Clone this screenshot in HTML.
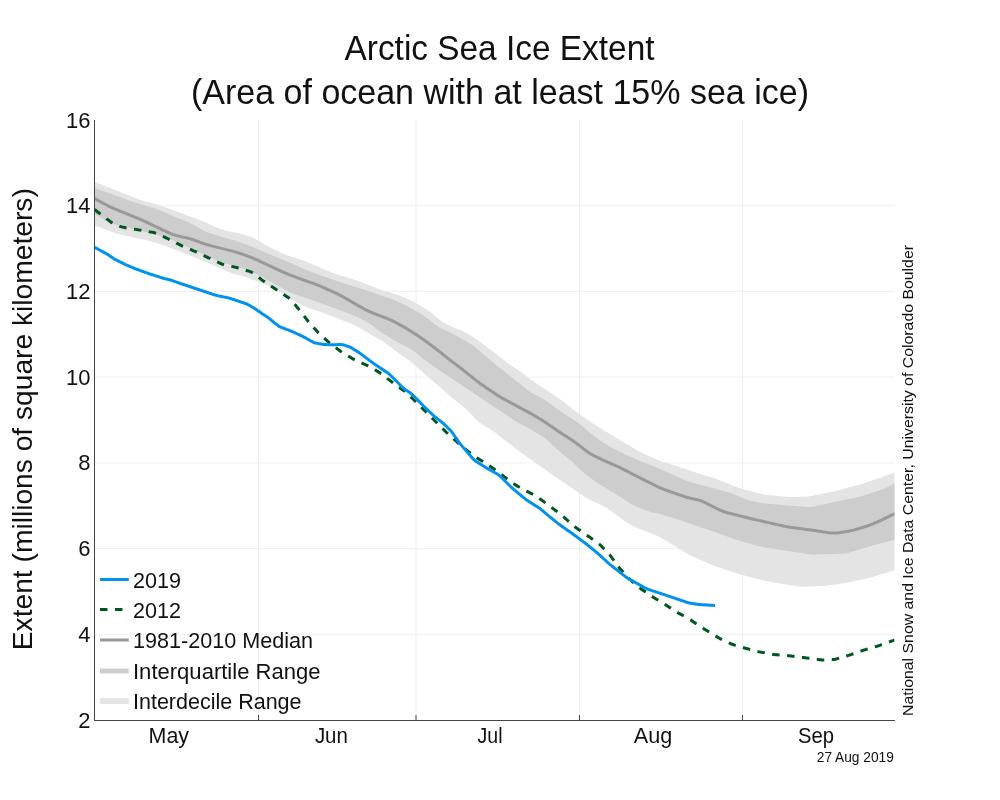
<!DOCTYPE html>
<html><head><meta charset="utf-8"><title>Arctic Sea Ice Extent</title>
<style>html,body{margin:0;padding:0;background:#fff;width:1000px;height:800px;overflow:hidden}svg{display:block;will-change:transform}</style>
</head><body>
<svg width="1000" height="800" viewBox="0 0 1000 800">
<rect width="1000" height="800" fill="#fff"/>
<line x1="95.0" y1="205.7" x2="894.5" y2="205.7" stroke="#f0f0f0" stroke-width="1"/>
<line x1="95.0" y1="291.4" x2="894.5" y2="291.4" stroke="#f0f0f0" stroke-width="1"/>
<line x1="95.0" y1="377.1" x2="894.5" y2="377.1" stroke="#f0f0f0" stroke-width="1"/>
<line x1="95.0" y1="462.9" x2="894.5" y2="462.9" stroke="#f0f0f0" stroke-width="1"/>
<line x1="95.0" y1="548.6" x2="894.5" y2="548.6" stroke="#f0f0f0" stroke-width="1"/>
<line x1="95.0" y1="634.3" x2="894.5" y2="634.3" stroke="#f0f0f0" stroke-width="1"/>
<line x1="258.5" y1="120.0" x2="258.5" y2="720.0" stroke="#f0f0f0" stroke-width="1"/>
<line x1="416.0" y1="120.0" x2="416.0" y2="720.0" stroke="#f0f0f0" stroke-width="1"/>
<line x1="579.5" y1="120.0" x2="579.5" y2="720.0" stroke="#f0f0f0" stroke-width="1"/>
<line x1="742.5" y1="120.0" x2="742.5" y2="720.0" stroke="#f0f0f0" stroke-width="1"/>
<clipPath id="c"><rect x="94.5" y="120.0" width="800.0" height="600.0"/></clipPath>
<g clip-path="url(#c)">
<path d="M94.5,182.0 L95.5,182.4 L96.5,182.7 L97.5,183.1 L98.5,183.5 L99.5,183.9 L100.5,184.2 L101.5,184.6 L102.5,185.0 L103.5,185.4 L104.5,185.7 L105.5,186.1 L106.5,186.5 L107.5,186.9 L108.5,187.2 L109.5,187.6 L110.5,188.0 L111.5,188.4 L112.5,188.8 L113.5,189.2 L114.5,189.6 L115.5,190.0 L116.5,190.4 L117.5,190.8 L118.5,191.2 L119.5,191.6 L120.5,192.0 L121.5,192.4 L122.5,192.8 L123.5,193.2 L124.5,193.6 L125.5,194.0 L126.5,194.4 L127.5,194.8 L128.5,195.2 L129.5,195.6 L130.5,196.0 L131.5,196.4 L132.5,196.8 L133.5,197.2 L134.5,197.6 L135.5,198.0 L136.5,198.4 L137.5,198.8 L138.5,199.2 L139.5,199.6 L140.5,199.9 L141.5,200.3 L142.5,200.6 L143.5,200.9 L144.5,201.2 L145.5,201.5 L146.5,201.7 L147.5,202.0 L148.5,202.2 L149.5,202.5 L150.5,202.7 L151.5,203.0 L152.5,203.2 L153.5,203.5 L154.5,203.7 L155.5,204.0 L156.5,204.3 L157.5,204.6 L158.5,204.9 L159.5,205.2 L160.5,205.5 L161.5,205.9 L162.5,206.3 L163.5,206.6 L164.5,207.0 L165.5,207.4 L166.5,207.7 L167.5,208.1 L168.5,208.5 L169.5,208.8 L170.5,209.2 L171.5,209.6 L172.5,209.9 L173.5,210.3 L174.5,210.7 L175.5,211.1 L176.5,211.4 L177.5,211.8 L178.5,212.2 L179.5,212.6 L180.5,212.9 L181.5,213.3 L182.5,213.7 L183.5,214.1 L184.5,214.4 L185.5,214.8 L186.5,215.2 L187.5,215.6 L188.5,215.9 L189.5,216.3 L190.5,216.7 L191.5,217.0 L192.5,217.4 L193.5,217.7 L194.5,218.1 L195.5,218.4 L196.5,218.8 L197.5,219.1 L198.5,219.5 L199.5,219.9 L200.5,220.3 L201.5,220.7 L202.5,221.1 L203.5,221.5 L204.5,221.9 L205.5,222.4 L206.5,222.8 L207.5,223.3 L208.5,223.7 L209.5,224.2 L210.5,224.7 L211.5,225.2 L212.5,225.7 L213.5,226.2 L214.5,226.7 L215.5,227.1 L216.5,227.6 L217.5,228.0 L218.5,228.4 L219.5,228.7 L220.5,229.0 L221.5,229.3 L222.5,229.6 L223.5,229.9 L224.5,230.1 L225.5,230.4 L226.5,230.7 L227.5,230.9 L228.5,231.2 L229.5,231.4 L230.5,231.6 L231.5,231.9 L232.5,232.1 L233.5,232.3 L234.5,232.5 L235.5,232.7 L236.5,232.9 L237.5,233.1 L238.5,233.3 L239.5,233.5 L240.5,233.8 L241.5,234.0 L242.5,234.3 L243.5,234.5 L244.5,234.8 L245.5,235.1 L246.5,235.5 L247.5,235.8 L248.5,236.1 L249.5,236.4 L250.5,236.8 L251.5,237.1 L252.5,237.5 L253.5,237.9 L254.5,238.4 L255.5,238.9 L256.5,239.5 L257.5,240.0 L258.5,240.6 L259.5,241.2 L260.5,241.8 L261.5,242.4 L262.5,243.0 L263.5,243.6 L264.5,244.2 L265.5,244.8 L266.5,245.4 L267.5,246.0 L268.5,246.5 L269.5,247.1 L270.5,247.6 L271.5,248.1 L272.5,248.6 L273.5,249.1 L274.5,249.6 L275.5,250.1 L276.5,250.5 L277.5,251.0 L278.5,251.5 L279.5,252.0 L280.5,252.4 L281.5,252.9 L282.5,253.3 L283.5,253.8 L284.5,254.2 L285.5,254.6 L286.5,255.0 L287.5,255.4 L288.5,255.7 L289.5,256.1 L290.5,256.4 L291.5,256.7 L292.5,257.0 L293.5,257.3 L294.5,257.7 L295.5,258.0 L296.5,258.3 L297.5,258.6 L298.5,258.9 L299.5,259.2 L300.5,259.6 L301.5,259.9 L302.5,260.3 L303.5,260.7 L304.5,261.1 L305.5,261.5 L306.5,261.9 L307.5,262.3 L308.5,262.7 L309.5,263.1 L310.5,263.5 L311.5,263.9 L312.5,264.3 L313.5,264.7 L314.5,265.2 L315.5,265.6 L316.5,266.0 L317.5,266.4 L318.5,266.8 L319.5,267.3 L320.5,267.7 L321.5,268.1 L322.5,268.5 L323.5,269.0 L324.5,269.4 L325.5,269.8 L326.5,270.3 L327.5,270.7 L328.5,271.1 L329.5,271.6 L330.5,272.0 L331.5,272.4 L332.5,272.8 L333.5,273.2 L334.5,273.5 L335.5,273.9 L336.5,274.2 L337.5,274.5 L338.5,274.8 L339.5,275.1 L340.5,275.4 L341.5,275.7 L342.5,276.0 L343.5,276.3 L344.5,276.6 L345.5,276.9 L346.5,277.2 L347.5,277.5 L348.5,277.8 L349.5,278.1 L350.5,278.4 L351.5,278.7 L352.5,279.1 L353.5,279.4 L354.5,279.8 L355.5,280.1 L356.5,280.5 L357.5,280.8 L358.5,281.2 L359.5,281.5 L360.5,281.9 L361.5,282.2 L362.5,282.6 L363.5,282.9 L364.5,283.3 L365.5,283.7 L366.5,284.0 L367.5,284.4 L368.5,284.8 L369.5,285.2 L370.5,285.6 L371.5,286.0 L372.5,286.4 L373.5,286.8 L374.5,287.2 L375.5,287.6 L376.5,288.0 L377.5,288.4 L378.5,288.8 L379.5,289.2 L380.5,289.6 L381.5,289.9 L382.5,290.3 L383.5,290.6 L384.5,290.9 L385.5,291.2 L386.5,291.5 L387.5,291.8 L388.5,292.1 L389.5,292.4 L390.5,292.8 L391.5,293.1 L392.5,293.4 L393.5,293.7 L394.5,294.0 L395.5,294.3 L396.5,294.6 L397.5,294.9 L398.5,295.3 L399.5,295.7 L400.5,296.1 L401.5,296.5 L402.5,296.9 L403.5,297.3 L404.5,297.7 L405.5,298.1 L406.5,298.6 L407.5,299.0 L408.5,299.4 L409.5,299.8 L410.5,300.3 L411.5,300.7 L412.5,301.2 L413.5,301.6 L414.5,302.2 L415.5,302.7 L416.5,303.3 L417.5,303.9 L418.5,304.5 L419.5,305.1 L420.5,305.7 L421.5,306.3 L422.5,307.0 L423.5,307.6 L424.5,308.2 L425.5,308.8 L426.5,309.5 L427.5,310.1 L428.5,310.8 L429.5,311.5 L430.5,312.2 L431.5,313.0 L432.5,313.8 L433.5,314.7 L434.5,315.5 L435.5,316.4 L436.5,317.2 L437.5,318.1 L438.5,318.9 L439.5,319.7 L440.5,320.5 L441.5,321.3 L442.5,321.9 L443.5,322.5 L444.5,323.1 L445.5,323.6 L446.5,324.1 L447.5,324.6 L448.5,325.0 L449.5,325.5 L450.5,326.0 L451.5,326.4 L452.5,326.9 L453.5,327.3 L454.5,327.7 L455.5,328.2 L456.5,328.6 L457.5,329.0 L458.5,329.4 L459.5,329.8 L460.5,330.2 L461.5,330.6 L462.5,331.0 L463.5,331.5 L464.5,331.9 L465.5,332.4 L466.5,332.9 L467.5,333.5 L468.5,334.1 L469.5,334.8 L470.5,335.4 L471.5,336.1 L472.5,336.7 L473.5,337.4 L474.5,338.1 L475.5,338.7 L476.5,339.4 L477.5,340.1 L478.5,340.8 L479.5,341.5 L480.5,342.3 L481.5,343.0 L482.5,343.7 L483.5,344.5 L484.5,345.2 L485.5,346.0 L486.5,346.7 L487.5,347.4 L488.5,348.2 L489.5,348.9 L490.5,349.7 L491.5,350.4 L492.5,351.2 L493.5,351.9 L494.5,352.7 L495.5,353.4 L496.5,354.2 L497.5,355.0 L498.5,355.8 L499.5,356.6 L500.5,357.4 L501.5,358.2 L502.5,359.0 L503.5,359.8 L504.5,360.6 L505.5,361.4 L506.5,362.2 L507.5,363.0 L508.5,363.7 L509.5,364.4 L510.5,365.1 L511.5,365.8 L512.5,366.5 L513.5,367.1 L514.5,367.7 L515.5,368.3 L516.5,368.9 L517.5,369.5 L518.5,370.2 L519.5,370.9 L520.5,371.6 L521.5,372.3 L522.5,373.1 L523.5,373.9 L524.5,374.7 L525.5,375.5 L526.5,376.3 L527.5,377.1 L528.5,377.9 L529.5,378.7 L530.5,379.5 L531.5,380.2 L532.5,380.9 L533.5,381.6 L534.5,382.2 L535.5,382.9 L536.5,383.5 L537.5,384.2 L538.5,384.8 L539.5,385.5 L540.5,386.1 L541.5,386.8 L542.5,387.4 L543.5,388.0 L544.5,388.7 L545.5,389.4 L546.5,390.0 L547.5,390.7 L548.5,391.3 L549.5,392.0 L550.5,392.7 L551.5,393.3 L552.5,394.0 L553.5,394.7 L554.5,395.3 L555.5,396.0 L556.5,396.7 L557.5,397.4 L558.5,398.1 L559.5,398.8 L560.5,399.5 L561.5,400.2 L562.5,401.0 L563.5,401.8 L564.5,402.6 L565.5,403.3 L566.5,404.1 L567.5,404.9 L568.5,405.7 L569.5,406.5 L570.5,407.3 L571.5,408.1 L572.5,408.9 L573.5,409.7 L574.5,410.4 L575.5,411.2 L576.5,412.0 L577.5,412.8 L578.5,413.5 L579.5,414.2 L580.5,414.9 L581.5,415.6 L582.5,416.3 L583.5,417.0 L584.5,417.7 L585.5,418.3 L586.5,419.0 L587.5,419.7 L588.5,420.3 L589.5,421.0 L590.5,421.7 L591.5,422.3 L592.5,423.0 L593.5,423.7 L594.5,424.3 L595.5,425.0 L596.5,425.7 L597.5,426.3 L598.5,427.0 L599.5,427.7 L600.5,428.3 L601.5,429.0 L602.5,429.6 L603.5,430.2 L604.5,430.8 L605.5,431.4 L606.5,432.0 L607.5,432.6 L608.5,433.2 L609.5,433.8 L610.5,434.4 L611.5,435.0 L612.5,435.5 L613.5,436.1 L614.5,436.7 L615.5,437.3 L616.5,437.9 L617.5,438.5 L618.5,439.1 L619.5,439.7 L620.5,440.3 L621.5,440.9 L622.5,441.5 L623.5,442.1 L624.5,442.7 L625.5,443.3 L626.5,443.9 L627.5,444.5 L628.5,445.1 L629.5,445.7 L630.5,446.3 L631.5,446.9 L632.5,447.5 L633.5,448.1 L634.5,448.7 L635.5,449.3 L636.5,449.9 L637.5,450.5 L638.5,451.0 L639.5,451.6 L640.5,452.1 L641.5,452.6 L642.5,453.1 L643.5,453.6 L644.5,454.0 L645.5,454.5 L646.5,454.9 L647.5,455.4 L648.5,455.8 L649.5,456.3 L650.5,456.7 L651.5,457.2 L652.5,457.6 L653.5,458.1 L654.5,458.5 L655.5,459.0 L656.5,459.4 L657.5,459.8 L658.5,460.3 L659.5,460.7 L660.5,461.0 L661.5,461.4 L662.5,461.7 L663.5,462.0 L664.5,462.3 L665.5,462.6 L666.5,462.9 L667.5,463.2 L668.5,463.5 L669.5,463.8 L670.5,464.1 L671.5,464.4 L672.5,464.8 L673.5,465.1 L674.5,465.4 L675.5,465.7 L676.5,466.0 L677.5,466.3 L678.5,466.6 L679.5,466.9 L680.5,467.2 L681.5,467.5 L682.5,467.9 L683.5,468.2 L684.5,468.6 L685.5,468.9 L686.5,469.3 L687.5,469.6 L688.5,470.0 L689.5,470.3 L690.5,470.7 L691.5,471.0 L692.5,471.4 L693.5,471.7 L694.5,472.1 L695.5,472.4 L696.5,472.8 L697.5,473.1 L698.5,473.4 L699.5,473.8 L700.5,474.1 L701.5,474.4 L702.5,474.7 L703.5,475.0 L704.5,475.3 L705.5,475.6 L706.5,475.9 L707.5,476.1 L708.5,476.4 L709.5,476.7 L710.5,477.0 L711.5,477.3 L712.5,477.6 L713.5,477.9 L714.5,478.3 L715.5,478.6 L716.5,479.0 L717.5,479.4 L718.5,479.8 L719.5,480.2 L720.5,480.6 L721.5,481.0 L722.5,481.4 L723.5,481.8 L724.5,482.2 L725.5,482.6 L726.5,483.0 L727.5,483.4 L728.5,483.8 L729.5,484.2 L730.5,484.6 L731.5,485.0 L732.5,485.4 L733.5,485.8 L734.5,486.2 L735.5,486.6 L736.5,487.0 L737.5,487.3 L738.5,487.7 L739.5,488.0 L740.5,488.3 L741.5,488.6 L742.5,488.9 L743.5,489.2 L744.5,489.5 L745.5,489.7 L746.5,490.0 L747.5,490.3 L748.5,490.5 L749.5,490.8 L750.5,491.1 L751.5,491.3 L752.5,491.6 L753.5,491.9 L754.5,492.1 L755.5,492.4 L756.5,492.7 L757.5,492.9 L758.5,493.2 L759.5,493.5 L760.5,493.7 L761.5,493.9 L762.5,494.1 L763.5,494.3 L764.5,494.5 L765.5,494.6 L766.5,494.7 L767.5,494.9 L768.5,495.0 L769.5,495.1 L770.5,495.2 L771.5,495.3 L772.5,495.4 L773.5,495.5 L774.5,495.6 L775.5,495.7 L776.5,495.8 L777.5,495.9 L778.5,496.0 L779.5,496.1 L780.5,496.2 L781.5,496.3 L782.5,496.4 L783.5,496.5 L784.5,496.6 L785.5,496.7 L786.5,496.8 L787.5,496.9 L788.5,496.9 L789.5,496.9 L790.5,496.9 L791.5,496.9 L792.5,496.9 L793.5,496.9 L794.5,496.9 L795.5,496.9 L796.5,496.9 L797.5,496.9 L798.5,496.9 L799.5,496.9 L800.5,496.8 L801.5,496.8 L802.5,496.8 L803.5,496.8 L804.5,496.8 L805.5,496.7 L806.5,496.7 L807.5,496.6 L808.5,496.4 L809.5,496.3 L810.5,496.1 L811.5,495.9 L812.5,495.7 L813.5,495.5 L814.5,495.3 L815.5,495.1 L816.5,495.0 L817.5,494.7 L818.5,494.5 L819.5,494.3 L820.5,494.1 L821.5,494.0 L822.5,493.8 L823.5,493.6 L824.5,493.3 L825.5,493.1 L826.5,492.9 L827.5,492.7 L828.5,492.5 L829.5,492.3 L830.5,492.1 L831.5,491.9 L832.5,491.7 L833.5,491.5 L834.5,491.3 L835.5,491.0 L836.5,490.8 L837.5,490.5 L838.5,490.2 L839.5,490.0 L840.5,489.7 L841.5,489.4 L842.5,489.2 L843.5,488.9 L844.5,488.6 L845.5,488.4 L846.5,488.1 L847.5,487.8 L848.5,487.6 L849.5,487.3 L850.5,487.0 L851.5,486.8 L852.5,486.5 L853.5,486.2 L854.5,486.0 L855.5,485.7 L856.5,485.4 L857.5,485.2 L858.5,484.9 L859.5,484.6 L860.5,484.3 L861.5,484.0 L862.5,483.7 L863.5,483.3 L864.5,483.0 L865.5,482.7 L866.5,482.3 L867.5,482.0 L868.5,481.7 L869.5,481.3 L870.5,481.0 L871.5,480.7 L872.5,480.3 L873.5,480.0 L874.5,479.7 L875.5,479.3 L876.5,479.0 L877.5,478.7 L878.5,478.3 L879.5,478.0 L880.5,477.6 L881.5,477.3 L882.5,476.9 L883.5,476.6 L884.5,476.2 L885.5,475.8 L886.5,475.4 L887.5,475.1 L888.5,474.7 L889.5,474.3 L890.5,473.9 L891.5,473.6 L892.5,473.2 L893.5,472.9 L894.5,472.6 L895.0,472.2 L895.0,570.2 L894.5,570.5 L893.5,570.8 L892.5,571.0 L891.5,571.3 L890.5,571.6 L889.5,571.9 L888.5,572.2 L887.5,572.5 L886.5,572.8 L885.5,573.1 L884.5,573.4 L883.5,573.7 L882.5,574.0 L881.5,574.3 L880.5,574.6 L879.5,574.9 L878.5,575.2 L877.5,575.5 L876.5,575.8 L875.5,576.1 L874.5,576.4 L873.5,576.7 L872.5,577.0 L871.5,577.3 L870.5,577.5 L869.5,577.8 L868.5,578.1 L867.5,578.3 L866.5,578.5 L865.5,578.8 L864.5,579.0 L863.5,579.2 L862.5,579.4 L861.5,579.6 L860.5,579.8 L859.5,580.0 L858.5,580.2 L857.5,580.5 L856.5,580.7 L855.5,580.9 L854.5,581.1 L853.5,581.3 L852.5,581.5 L851.5,581.7 L850.5,581.9 L849.5,582.1 L848.5,582.3 L847.5,582.5 L846.5,582.7 L845.5,582.8 L844.5,583.0 L843.5,583.2 L842.5,583.3 L841.5,583.5 L840.5,583.6 L839.5,583.8 L838.5,583.9 L837.5,584.1 L836.5,584.2 L835.5,584.4 L834.5,584.5 L833.5,584.7 L832.5,584.8 L831.5,585.0 L830.5,585.2 L829.5,585.3 L828.5,585.5 L827.5,585.6 L826.5,585.7 L825.5,585.8 L824.5,585.9 L823.5,586.0 L822.5,586.1 L821.5,586.1 L820.5,586.2 L819.5,586.2 L818.5,586.2 L817.5,586.3 L816.5,586.3 L815.5,586.3 L814.5,586.4 L813.5,586.4 L812.5,586.5 L811.5,586.5 L810.5,586.5 L809.5,586.6 L808.5,586.6 L807.5,586.6 L806.5,586.7 L805.5,586.7 L804.5,586.7 L803.5,586.8 L802.5,586.8 L801.5,586.7 L800.5,586.7 L799.5,586.6 L798.5,586.5 L797.5,586.4 L796.5,586.2 L795.5,586.0 L794.5,585.9 L793.5,585.7 L792.5,585.5 L791.5,585.4 L790.5,585.2 L789.5,585.0 L788.5,584.9 L787.5,584.7 L786.5,584.5 L785.5,584.4 L784.5,584.2 L783.5,584.0 L782.5,583.9 L781.5,583.7 L780.5,583.5 L779.5,583.3 L778.5,583.2 L777.5,583.0 L776.5,582.9 L775.5,582.7 L774.5,582.5 L773.5,582.4 L772.5,582.2 L771.5,582.0 L770.5,581.8 L769.5,581.7 L768.5,581.5 L767.5,581.3 L766.5,581.2 L765.5,581.0 L764.5,580.8 L763.5,580.6 L762.5,580.4 L761.5,580.1 L760.5,579.9 L759.5,579.6 L758.5,579.4 L757.5,579.1 L756.5,578.8 L755.5,578.6 L754.5,578.3 L753.5,578.0 L752.5,577.7 L751.5,577.5 L750.5,577.2 L749.5,576.9 L748.5,576.6 L747.5,576.4 L746.5,576.1 L745.5,575.8 L744.5,575.6 L743.5,575.3 L742.5,575.0 L741.5,574.7 L740.5,574.4 L739.5,574.2 L738.5,573.9 L737.5,573.5 L736.5,573.2 L735.5,572.9 L734.5,572.6 L733.5,572.3 L732.5,571.9 L731.5,571.6 L730.5,571.3 L729.5,571.0 L728.5,570.6 L727.5,570.3 L726.5,570.0 L725.5,569.6 L724.5,569.3 L723.5,569.0 L722.5,568.7 L721.5,568.3 L720.5,568.0 L719.5,567.7 L718.5,567.3 L717.5,567.0 L716.5,566.7 L715.5,566.3 L714.5,565.9 L713.5,565.5 L712.5,565.1 L711.5,564.7 L710.5,564.3 L709.5,563.9 L708.5,563.4 L707.5,563.0 L706.5,562.6 L705.5,562.1 L704.5,561.7 L703.5,561.3 L702.5,560.8 L701.5,560.4 L700.5,560.0 L699.5,559.5 L698.5,559.1 L697.5,558.7 L696.5,558.2 L695.5,557.8 L694.5,557.3 L693.5,556.9 L692.5,556.4 L691.5,556.0 L690.5,555.5 L689.5,555.0 L688.5,554.4 L687.5,553.8 L686.5,553.2 L685.5,552.6 L684.5,552.0 L683.5,551.4 L682.5,550.8 L681.5,550.2 L680.5,549.6 L679.5,549.0 L678.5,548.3 L677.5,547.7 L676.5,547.1 L675.5,546.5 L674.5,545.9 L673.5,545.3 L672.5,544.7 L671.5,544.1 L670.5,543.4 L669.5,542.8 L668.5,542.2 L667.5,541.6 L666.5,541.0 L665.5,540.4 L664.5,539.8 L663.5,539.2 L662.5,538.6 L661.5,538.0 L660.5,537.5 L659.5,537.0 L658.5,536.5 L657.5,536.0 L656.5,535.6 L655.5,535.2 L654.5,534.8 L653.5,534.4 L652.5,534.0 L651.5,533.6 L650.5,533.2 L649.5,532.8 L648.5,532.4 L647.5,532.0 L646.5,531.6 L645.5,531.2 L644.5,530.8 L643.5,530.4 L642.5,530.0 L641.5,529.6 L640.5,529.2 L639.5,528.8 L638.5,528.4 L637.5,528.0 L636.5,527.6 L635.5,527.2 L634.5,526.7 L633.5,526.3 L632.5,525.8 L631.5,525.3 L630.5,524.7 L629.5,524.2 L628.5,523.6 L627.5,523.0 L626.5,522.3 L625.5,521.7 L624.5,521.0 L623.5,520.3 L622.5,519.6 L621.5,518.9 L620.5,518.1 L619.5,517.3 L618.5,516.5 L617.5,515.7 L616.5,514.9 L615.5,514.2 L614.5,513.4 L613.5,512.7 L612.5,512.0 L611.5,511.3 L610.5,510.6 L609.5,509.9 L608.5,509.2 L607.5,508.6 L606.5,507.9 L605.5,507.4 L604.5,506.8 L603.5,506.3 L602.5,505.7 L601.5,505.2 L600.5,504.7 L599.5,504.2 L598.5,503.8 L597.5,503.3 L596.5,502.9 L595.5,502.4 L594.5,502.0 L593.5,501.6 L592.5,501.2 L591.5,500.7 L590.5,500.3 L589.5,499.8 L588.5,499.3 L587.5,498.7 L586.5,498.1 L585.5,497.4 L584.5,496.7 L583.5,496.0 L582.5,495.3 L581.5,494.7 L580.5,494.0 L579.5,493.3 L578.5,492.6 L577.5,492.0 L576.5,491.3 L575.5,490.6 L574.5,490.0 L573.5,489.3 L572.5,488.6 L571.5,488.0 L570.5,487.3 L569.5,486.6 L568.5,485.9 L567.5,485.2 L566.5,484.5 L565.5,483.8 L564.5,483.1 L563.5,482.4 L562.5,481.7 L561.5,481.1 L560.5,480.3 L559.5,479.7 L558.5,479.0 L557.5,478.2 L556.5,477.6 L555.5,476.9 L554.5,476.2 L553.5,475.4 L552.5,474.8 L551.5,474.0 L550.5,473.4 L549.5,472.7 L548.5,471.9 L547.5,471.2 L546.5,470.5 L545.5,469.8 L544.5,469.1 L543.5,468.4 L542.5,467.7 L541.5,467.0 L540.5,466.3 L539.5,465.6 L538.5,464.9 L537.5,464.2 L536.5,463.5 L535.5,462.8 L534.5,462.1 L533.5,461.4 L532.5,460.7 L531.5,460.0 L530.5,459.3 L529.5,458.6 L528.5,457.9 L527.5,457.2 L526.5,456.5 L525.5,455.8 L524.5,455.1 L523.5,454.4 L522.5,453.7 L521.5,453.0 L520.5,452.3 L519.5,451.5 L518.5,450.8 L517.5,450.0 L516.5,449.2 L515.5,448.4 L514.5,447.6 L513.5,446.8 L512.5,446.0 L511.5,445.2 L510.5,444.4 L509.5,443.7 L508.5,442.9 L507.5,442.1 L506.5,441.4 L505.5,440.6 L504.5,439.9 L503.5,439.1 L502.5,438.4 L501.5,437.6 L500.5,436.8 L499.5,436.0 L498.5,435.2 L497.5,434.4 L496.5,433.6 L495.5,432.8 L494.5,432.1 L493.5,431.4 L492.5,430.7 L491.5,430.0 L490.5,429.4 L489.5,428.7 L488.5,428.1 L487.5,427.5 L486.5,426.9 L485.5,426.3 L484.5,425.6 L483.5,425.0 L482.5,424.4 L481.5,423.8 L480.5,423.1 L479.5,422.4 L478.5,421.7 L477.5,420.8 L476.5,419.9 L475.5,418.9 L474.5,417.9 L473.5,416.7 L472.5,415.6 L471.5,414.5 L470.5,413.4 L469.5,412.4 L468.5,411.4 L467.5,410.5 L466.5,409.6 L465.5,408.7 L464.5,407.8 L463.5,407.0 L462.5,406.2 L461.5,405.3 L460.5,404.5 L459.5,403.7 L458.5,403.0 L457.5,402.2 L456.5,401.4 L455.5,400.6 L454.5,399.8 L453.5,399.0 L452.5,398.2 L451.5,397.3 L450.5,396.4 L449.5,395.6 L448.5,394.7 L447.5,393.8 L446.5,392.9 L445.5,392.0 L444.5,391.1 L443.5,390.2 L442.5,389.4 L441.5,388.5 L440.5,387.6 L439.5,386.7 L438.5,385.9 L437.5,385.0 L436.5,384.2 L435.5,383.3 L434.5,382.5 L433.5,381.6 L432.5,380.8 L431.5,380.0 L430.5,379.1 L429.5,378.3 L428.5,377.4 L427.5,376.5 L426.5,375.7 L425.5,374.8 L424.5,373.9 L423.5,373.0 L422.5,372.1 L421.5,371.2 L420.5,370.3 L419.5,369.4 L418.5,368.6 L417.5,367.7 L416.5,366.8 L415.5,365.9 L414.5,365.0 L413.5,364.1 L412.5,363.2 L411.5,362.4 L410.5,361.6 L409.5,360.8 L408.5,360.1 L407.5,359.4 L406.5,358.7 L405.5,358.0 L404.5,357.3 L403.5,356.6 L402.5,355.8 L401.5,355.1 L400.5,354.4 L399.5,353.7 L398.5,353.0 L397.5,352.3 L396.5,351.6 L395.5,350.9 L394.5,350.1 L393.5,349.3 L392.5,348.6 L391.5,347.8 L390.5,347.0 L389.5,346.3 L388.5,345.5 L387.5,344.7 L386.5,344.0 L385.5,343.2 L384.5,342.5 L383.5,341.9 L382.5,341.2 L381.5,340.6 L380.5,340.0 L379.5,339.4 L378.5,338.9 L377.5,338.3 L376.5,337.7 L375.5,337.1 L374.5,336.6 L373.5,336.0 L372.5,335.4 L371.5,334.9 L370.5,334.3 L369.5,333.7 L368.5,333.1 L367.5,332.6 L366.5,332.0 L365.5,331.4 L364.5,330.8 L363.5,330.3 L362.5,329.7 L361.5,329.1 L360.5,328.5 L359.5,328.0 L358.5,327.4 L357.5,326.8 L356.5,326.3 L355.5,325.7 L354.5,325.2 L353.5,324.7 L352.5,324.3 L351.5,323.9 L350.5,323.4 L349.5,323.0 L348.5,322.6 L347.5,322.2 L346.5,321.8 L345.5,321.5 L344.5,321.1 L343.5,320.7 L342.5,320.3 L341.5,319.9 L340.5,319.5 L339.5,319.1 L338.5,318.7 L337.5,318.3 L336.5,317.9 L335.5,317.6 L334.5,317.2 L333.5,316.8 L332.5,316.4 L331.5,316.1 L330.5,315.7 L329.5,315.3 L328.5,314.9 L327.5,314.6 L326.5,314.2 L325.5,313.8 L324.5,313.4 L323.5,313.1 L322.5,312.7 L321.5,312.4 L320.5,312.0 L319.5,311.6 L318.5,311.3 L317.5,311.0 L316.5,310.6 L315.5,310.3 L314.5,309.9 L313.5,309.6 L312.5,309.2 L311.5,308.9 L310.5,308.5 L309.5,308.2 L308.5,307.8 L307.5,307.4 L306.5,307.1 L305.5,306.6 L304.5,306.2 L303.5,305.7 L302.5,305.2 L301.5,304.7 L300.5,304.2 L299.5,303.7 L298.5,303.2 L297.5,302.7 L296.5,302.2 L295.5,301.7 L294.5,301.2 L293.5,300.6 L292.5,300.1 L291.5,299.4 L290.5,298.8 L289.5,298.1 L288.5,297.4 L287.5,296.6 L286.5,295.9 L285.5,295.2 L284.5,294.5 L283.5,293.9 L282.5,293.3 L281.5,292.7 L280.5,292.1 L279.5,291.5 L278.5,291.0 L277.5,290.4 L276.5,289.9 L275.5,289.4 L274.5,288.9 L273.5,288.4 L272.5,287.9 L271.5,287.4 L270.5,286.9 L269.5,286.5 L268.5,286.0 L267.5,285.6 L266.5,285.1 L265.5,284.7 L264.5,284.3 L263.5,283.8 L262.5,283.4 L261.5,283.0 L260.5,282.6 L259.5,282.2 L258.5,281.8 L257.5,281.4 L256.5,281.0 L255.5,280.6 L254.5,280.3 L253.5,279.9 L252.5,279.5 L251.5,279.2 L250.5,278.8 L249.5,278.5 L248.5,278.2 L247.5,277.8 L246.5,277.5 L245.5,277.2 L244.5,276.8 L243.5,276.5 L242.5,276.2 L241.5,275.9 L240.5,275.6 L239.5,275.3 L238.5,275.1 L237.5,274.8 L236.5,274.5 L235.5,274.3 L234.5,274.0 L233.5,273.7 L232.5,273.4 L231.5,273.1 L230.5,272.8 L229.5,272.4 L228.5,272.0 L227.5,271.6 L226.5,271.1 L225.5,270.7 L224.5,270.2 L223.5,269.8 L222.5,269.3 L221.5,268.8 L220.5,268.4 L219.5,267.9 L218.5,267.5 L217.5,267.0 L216.5,266.6 L215.5,266.1 L214.5,265.7 L213.5,265.3 L212.5,264.8 L211.5,264.4 L210.5,264.0 L209.5,263.5 L208.5,263.1 L207.5,262.7 L206.5,262.2 L205.5,261.8 L204.5,261.4 L203.5,261.0 L202.5,260.6 L201.5,260.1 L200.5,259.7 L199.5,259.3 L198.5,258.9 L197.5,258.5 L196.5,258.1 L195.5,257.7 L194.5,257.3 L193.5,256.8 L192.5,256.4 L191.5,256.0 L190.5,255.6 L189.5,255.2 L188.5,254.8 L187.5,254.4 L186.5,254.0 L185.5,253.7 L184.5,253.3 L183.5,252.9 L182.5,252.5 L181.5,252.1 L180.5,251.7 L179.5,251.3 L178.5,250.9 L177.5,250.6 L176.5,250.2 L175.5,249.8 L174.5,249.4 L173.5,249.0 L172.5,248.6 L171.5,248.2 L170.5,247.9 L169.5,247.5 L168.5,247.1 L167.5,246.7 L166.5,246.3 L165.5,245.9 L164.5,245.6 L163.5,245.2 L162.5,244.9 L161.5,244.5 L160.5,244.2 L159.5,243.9 L158.5,243.6 L157.5,243.3 L156.5,243.0 L155.5,242.7 L154.5,242.4 L153.5,242.1 L152.5,241.8 L151.5,241.5 L150.5,241.2 L149.5,241.0 L148.5,240.7 L147.5,240.5 L146.5,240.2 L145.5,240.0 L144.5,239.8 L143.5,239.6 L142.5,239.4 L141.5,239.1 L140.5,238.9 L139.5,238.7 L138.5,238.5 L137.5,238.3 L136.5,238.0 L135.5,237.8 L134.5,237.6 L133.5,237.4 L132.5,237.2 L131.5,236.9 L130.5,236.7 L129.5,236.5 L128.5,236.3 L127.5,236.1 L126.5,235.8 L125.5,235.6 L124.5,235.4 L123.5,235.2 L122.5,235.0 L121.5,234.7 L120.5,234.5 L119.5,234.3 L118.5,234.0 L117.5,233.8 L116.5,233.5 L115.5,233.2 L114.5,232.8 L113.5,232.5 L112.5,232.1 L111.5,231.7 L110.5,231.3 L109.5,230.9 L108.5,230.6 L107.5,230.2 L106.5,229.8 L105.5,229.4 L104.5,229.1 L103.5,228.7 L102.5,228.4 L101.5,228.0 L100.5,227.6 L99.5,227.3 L98.5,226.9 L97.5,226.6 L96.5,226.2 L95.5,225.9 L94.5,225.5 Z" fill="#e4e4e4"/>
<path d="M94.5,188.0 L95.5,188.3 L96.5,188.7 L97.5,189.0 L98.5,189.4 L99.5,189.7 L100.5,190.1 L101.5,190.4 L102.5,190.8 L103.5,191.1 L104.5,191.5 L105.5,191.8 L106.5,192.2 L107.5,192.5 L108.5,192.9 L109.5,193.2 L110.5,193.6 L111.5,194.0 L112.5,194.3 L113.5,194.7 L114.5,195.1 L115.5,195.5 L116.5,195.8 L117.5,196.2 L118.5,196.6 L119.5,197.0 L120.5,197.3 L121.5,197.7 L122.5,198.1 L123.5,198.5 L124.5,198.8 L125.5,199.2 L126.5,199.5 L127.5,199.9 L128.5,200.2 L129.5,200.5 L130.5,200.9 L131.5,201.2 L132.5,201.5 L133.5,201.8 L134.5,202.2 L135.5,202.5 L136.5,202.8 L137.5,203.1 L138.5,203.5 L139.5,203.8 L140.5,204.1 L141.5,204.4 L142.5,204.7 L143.5,205.0 L144.5,205.3 L145.5,205.6 L146.5,205.9 L147.5,206.2 L148.5,206.5 L149.5,206.8 L150.5,207.2 L151.5,207.5 L152.5,207.8 L153.5,208.1 L154.5,208.4 L155.5,208.7 L156.5,209.0 L157.5,209.4 L158.5,209.7 L159.5,210.1 L160.5,210.5 L161.5,211.0 L162.5,211.4 L163.5,211.8 L164.5,212.3 L165.5,212.7 L166.5,213.2 L167.5,213.6 L168.5,214.1 L169.5,214.5 L170.5,214.9 L171.5,215.4 L172.5,215.8 L173.5,216.2 L174.5,216.7 L175.5,217.1 L176.5,217.5 L177.5,217.9 L178.5,218.3 L179.5,218.7 L180.5,219.1 L181.5,219.5 L182.5,219.8 L183.5,220.2 L184.5,220.6 L185.5,221.0 L186.5,221.4 L187.5,221.9 L188.5,222.3 L189.5,222.7 L190.5,223.2 L191.5,223.7 L192.5,224.3 L193.5,224.8 L194.5,225.4 L195.5,226.0 L196.5,226.5 L197.5,227.1 L198.5,227.7 L199.5,228.3 L200.5,228.8 L201.5,229.4 L202.5,230.0 L203.5,230.5 L204.5,231.0 L205.5,231.5 L206.5,232.0 L207.5,232.4 L208.5,232.7 L209.5,233.1 L210.5,233.4 L211.5,233.7 L212.5,234.0 L213.5,234.3 L214.5,234.7 L215.5,235.0 L216.5,235.3 L217.5,235.6 L218.5,235.9 L219.5,236.2 L220.5,236.5 L221.5,236.8 L222.5,237.1 L223.5,237.4 L224.5,237.7 L225.5,238.0 L226.5,238.3 L227.5,238.5 L228.5,238.8 L229.5,239.1 L230.5,239.4 L231.5,239.7 L232.5,240.0 L233.5,240.2 L234.5,240.5 L235.5,240.8 L236.5,241.1 L237.5,241.4 L238.5,241.8 L239.5,242.1 L240.5,242.5 L241.5,242.8 L242.5,243.2 L243.5,243.6 L244.5,243.9 L245.5,244.3 L246.5,244.7 L247.5,245.1 L248.5,245.4 L249.5,245.8 L250.5,246.2 L251.5,246.6 L252.5,247.0 L253.5,247.4 L254.5,247.8 L255.5,248.2 L256.5,248.6 L257.5,249.0 L258.5,249.5 L259.5,249.9 L260.5,250.3 L261.5,250.8 L262.5,251.2 L263.5,251.7 L264.5,252.1 L265.5,252.5 L266.5,253.0 L267.5,253.4 L268.5,253.8 L269.5,254.3 L270.5,254.7 L271.5,255.1 L272.5,255.5 L273.5,255.9 L274.5,256.3 L275.5,256.7 L276.5,257.1 L277.5,257.5 L278.5,258.0 L279.5,258.4 L280.5,258.8 L281.5,259.2 L282.5,259.6 L283.5,260.0 L284.5,260.4 L285.5,260.8 L286.5,261.2 L287.5,261.7 L288.5,262.1 L289.5,262.5 L290.5,263.0 L291.5,263.4 L292.5,263.8 L293.5,264.3 L294.5,264.7 L295.5,265.2 L296.5,265.6 L297.5,266.0 L298.5,266.5 L299.5,266.9 L300.5,267.3 L301.5,267.8 L302.5,268.2 L303.5,268.6 L304.5,269.0 L305.5,269.4 L306.5,269.9 L307.5,270.3 L308.5,270.7 L309.5,271.1 L310.5,271.5 L311.5,271.9 L312.5,272.3 L313.5,272.7 L314.5,273.1 L315.5,273.6 L316.5,273.9 L317.5,274.3 L318.5,274.7 L319.5,275.1 L320.5,275.4 L321.5,275.8 L322.5,276.1 L323.5,276.5 L324.5,276.8 L325.5,277.1 L326.5,277.5 L327.5,277.8 L328.5,278.1 L329.5,278.5 L330.5,278.8 L331.5,279.2 L332.5,279.5 L333.5,279.8 L334.5,280.2 L335.5,280.5 L336.5,280.8 L337.5,281.2 L338.5,281.5 L339.5,281.9 L340.5,282.2 L341.5,282.5 L342.5,282.9 L343.5,283.2 L344.5,283.5 L345.5,283.9 L346.5,284.2 L347.5,284.5 L348.5,284.9 L349.5,285.2 L350.5,285.5 L351.5,285.8 L352.5,286.1 L353.5,286.4 L354.5,286.7 L355.5,287.0 L356.5,287.3 L357.5,287.6 L358.5,288.0 L359.5,288.3 L360.5,288.6 L361.5,288.9 L362.5,289.2 L363.5,289.5 L364.5,289.8 L365.5,290.1 L366.5,290.4 L367.5,290.7 L368.5,291.1 L369.5,291.4 L370.5,291.8 L371.5,292.1 L372.5,292.5 L373.5,292.8 L374.5,293.2 L375.5,293.5 L376.5,293.9 L377.5,294.2 L378.5,294.6 L379.5,294.9 L380.5,295.3 L381.5,295.6 L382.5,296.0 L383.5,296.3 L384.5,296.7 L385.5,297.0 L386.5,297.4 L387.5,297.7 L388.5,298.1 L389.5,298.4 L390.5,298.8 L391.5,299.1 L392.5,299.5 L393.5,299.8 L394.5,300.2 L395.5,300.6 L396.5,300.9 L397.5,301.4 L398.5,301.8 L399.5,302.2 L400.5,302.7 L401.5,303.2 L402.5,303.7 L403.5,304.3 L404.5,304.8 L405.5,305.3 L406.5,305.8 L407.5,306.3 L408.5,306.8 L409.5,307.4 L410.5,307.9 L411.5,308.4 L412.5,309.0 L413.5,309.5 L414.5,310.1 L415.5,310.7 L416.5,311.3 L417.5,311.9 L418.5,312.5 L419.5,313.1 L420.5,313.8 L421.5,314.4 L422.5,315.0 L423.5,315.7 L424.5,316.3 L425.5,317.0 L426.5,317.7 L427.5,318.5 L428.5,319.2 L429.5,320.0 L430.5,320.8 L431.5,321.6 L432.5,322.4 L433.5,323.2 L434.5,324.0 L435.5,324.7 L436.5,325.5 L437.5,326.1 L438.5,326.8 L439.5,327.4 L440.5,327.9 L441.5,328.4 L442.5,328.9 L443.5,329.4 L444.5,329.8 L445.5,330.3 L446.5,330.8 L447.5,331.2 L448.5,331.7 L449.5,332.2 L450.5,332.7 L451.5,333.2 L452.5,333.7 L453.5,334.3 L454.5,334.8 L455.5,335.3 L456.5,335.9 L457.5,336.4 L458.5,336.9 L459.5,337.5 L460.5,338.0 L461.5,338.6 L462.5,339.2 L463.5,339.7 L464.5,340.3 L465.5,340.9 L466.5,341.5 L467.5,342.1 L468.5,342.7 L469.5,343.3 L470.5,343.9 L471.5,344.6 L472.5,345.2 L473.5,345.9 L474.5,346.6 L475.5,347.4 L476.5,348.2 L477.5,349.1 L478.5,349.9 L479.5,350.8 L480.5,351.7 L481.5,352.6 L482.5,353.4 L483.5,354.3 L484.5,355.2 L485.5,356.1 L486.5,356.9 L487.5,357.8 L488.5,358.7 L489.5,359.5 L490.5,360.3 L491.5,361.2 L492.5,362.0 L493.5,362.8 L494.5,363.6 L495.5,364.4 L496.5,365.2 L497.5,366.0 L498.5,366.8 L499.5,367.6 L500.5,368.4 L501.5,369.2 L502.5,370.0 L503.5,370.8 L504.5,371.6 L505.5,372.4 L506.5,373.2 L507.5,374.0 L508.5,374.8 L509.5,375.6 L510.5,376.4 L511.5,377.2 L512.5,378.0 L513.5,378.8 L514.5,379.6 L515.5,380.4 L516.5,381.2 L517.5,382.0 L518.5,382.8 L519.5,383.6 L520.5,384.4 L521.5,385.2 L522.5,386.0 L523.5,386.8 L524.5,387.6 L525.5,388.4 L526.5,389.2 L527.5,389.9 L528.5,390.7 L529.5,391.4 L530.5,392.1 L531.5,392.7 L532.5,393.3 L533.5,393.8 L534.5,394.4 L535.5,394.9 L536.5,395.5 L537.5,396.0 L538.5,396.5 L539.5,397.1 L540.5,397.6 L541.5,398.2 L542.5,398.7 L543.5,399.3 L544.5,399.9 L545.5,400.5 L546.5,401.2 L547.5,401.9 L548.5,402.6 L549.5,403.3 L550.5,404.0 L551.5,404.8 L552.5,405.5 L553.5,406.2 L554.5,407.0 L555.5,407.7 L556.5,408.4 L557.5,409.1 L558.5,409.9 L559.5,410.6 L560.5,411.3 L561.5,411.9 L562.5,412.6 L563.5,413.3 L564.5,413.9 L565.5,414.6 L566.5,415.2 L567.5,415.9 L568.5,416.5 L569.5,417.2 L570.5,417.8 L571.5,418.5 L572.5,419.1 L573.5,419.8 L574.5,420.4 L575.5,421.1 L576.5,421.7 L577.5,422.4 L578.5,423.1 L579.5,423.9 L580.5,424.6 L581.5,425.5 L582.5,426.3 L583.5,427.2 L584.5,428.1 L585.5,428.9 L586.5,429.8 L587.5,430.7 L588.5,431.6 L589.5,432.4 L590.5,433.2 L591.5,434.0 L592.5,434.8 L593.5,435.6 L594.5,436.3 L595.5,437.0 L596.5,437.8 L597.5,438.5 L598.5,439.2 L599.5,440.0 L600.5,440.7 L601.5,441.4 L602.5,442.1 L603.5,442.8 L604.5,443.5 L605.5,444.1 L606.5,444.7 L607.5,445.3 L608.5,445.8 L609.5,446.4 L610.5,446.9 L611.5,447.5 L612.5,448.0 L613.5,448.5 L614.5,449.1 L615.5,449.6 L616.5,450.1 L617.5,450.6 L618.5,451.2 L619.5,451.7 L620.5,452.2 L621.5,452.6 L622.5,453.1 L623.5,453.6 L624.5,454.0 L625.5,454.5 L626.5,454.9 L627.5,455.4 L628.5,455.8 L629.5,456.3 L630.5,456.7 L631.5,457.2 L632.5,457.6 L633.5,458.1 L634.5,458.5 L635.5,459.0 L636.5,459.4 L637.5,459.9 L638.5,460.3 L639.5,460.7 L640.5,461.2 L641.5,461.6 L642.5,462.0 L643.5,462.4 L644.5,462.8 L645.5,463.2 L646.5,463.6 L647.5,464.0 L648.5,464.4 L649.5,464.8 L650.5,465.2 L651.5,465.6 L652.5,466.0 L653.5,466.4 L654.5,466.8 L655.5,467.2 L656.5,467.6 L657.5,468.0 L658.5,468.4 L659.5,468.8 L660.5,469.3 L661.5,469.7 L662.5,470.1 L663.5,470.6 L664.5,471.0 L665.5,471.5 L666.5,471.9 L667.5,472.4 L668.5,472.8 L669.5,473.3 L670.5,473.7 L671.5,474.2 L672.5,474.6 L673.5,475.1 L674.5,475.5 L675.5,476.0 L676.5,476.4 L677.5,476.9 L678.5,477.3 L679.5,477.8 L680.5,478.2 L681.5,478.6 L682.5,479.0 L683.5,479.5 L684.5,479.9 L685.5,480.3 L686.5,480.7 L687.5,481.1 L688.5,481.5 L689.5,481.9 L690.5,482.2 L691.5,482.5 L692.5,482.8 L693.5,483.1 L694.5,483.3 L695.5,483.6 L696.5,483.9 L697.5,484.1 L698.5,484.4 L699.5,484.6 L700.5,484.9 L701.5,485.1 L702.5,485.4 L703.5,485.7 L704.5,485.9 L705.5,486.2 L706.5,486.4 L707.5,486.7 L708.5,487.0 L709.5,487.2 L710.5,487.5 L711.5,487.8 L712.5,488.0 L713.5,488.3 L714.5,488.5 L715.5,488.8 L716.5,489.1 L717.5,489.3 L718.5,489.6 L719.5,489.9 L720.5,490.1 L721.5,490.4 L722.5,490.7 L723.5,490.9 L724.5,491.2 L725.5,491.5 L726.5,491.7 L727.5,492.0 L728.5,492.3 L729.5,492.6 L730.5,492.9 L731.5,493.3 L732.5,493.7 L733.5,494.1 L734.5,494.5 L735.5,495.0 L736.5,495.4 L737.5,495.8 L738.5,496.3 L739.5,496.7 L740.5,497.1 L741.5,497.6 L742.5,498.0 L743.5,498.4 L744.5,498.9 L745.5,499.2 L746.5,499.6 L747.5,499.9 L748.5,500.2 L749.5,500.5 L750.5,500.7 L751.5,500.9 L752.5,501.1 L753.5,501.3 L754.5,501.5 L755.5,501.8 L756.5,502.0 L757.5,502.2 L758.5,502.4 L759.5,502.6 L760.5,502.8 L761.5,502.9 L762.5,503.1 L763.5,503.3 L764.5,503.4 L765.5,503.5 L766.5,503.6 L767.5,503.7 L768.5,503.8 L769.5,503.9 L770.5,504.0 L771.5,504.0 L772.5,504.1 L773.5,504.2 L774.5,504.3 L775.5,504.4 L776.5,504.5 L777.5,504.6 L778.5,504.7 L779.5,504.8 L780.5,504.8 L781.5,504.9 L782.5,505.0 L783.5,505.1 L784.5,505.2 L785.5,505.3 L786.5,505.4 L787.5,505.4 L788.5,505.5 L789.5,505.6 L790.5,505.7 L791.5,505.8 L792.5,505.9 L793.5,505.9 L794.5,506.0 L795.5,506.1 L796.5,506.2 L797.5,506.2 L798.5,506.3 L799.5,506.4 L800.5,506.5 L801.5,506.6 L802.5,506.6 L803.5,506.7 L804.5,506.8 L805.5,506.9 L806.5,506.9 L807.5,507.0 L808.5,507.0 L809.5,507.1 L810.5,507.0 L811.5,506.9 L812.5,506.8 L813.5,506.7 L814.5,506.5 L815.5,506.2 L816.5,506.0 L817.5,505.8 L818.5,505.6 L819.5,505.3 L820.5,505.1 L821.5,504.9 L822.5,504.6 L823.5,504.4 L824.5,504.2 L825.5,503.9 L826.5,503.7 L827.5,503.5 L828.5,503.2 L829.5,503.0 L830.5,502.8 L831.5,502.5 L832.5,502.3 L833.5,502.1 L834.5,501.9 L835.5,501.7 L836.5,501.5 L837.5,501.3 L838.5,501.1 L839.5,500.9 L840.5,500.7 L841.5,500.5 L842.5,500.3 L843.5,500.1 L844.5,499.9 L845.5,499.6 L846.5,499.4 L847.5,499.2 L848.5,499.0 L849.5,498.8 L850.5,498.6 L851.5,498.4 L852.5,498.2 L853.5,498.0 L854.5,497.8 L855.5,497.6 L856.5,497.4 L857.5,497.2 L858.5,497.0 L859.5,496.7 L860.5,496.5 L861.5,496.2 L862.5,495.9 L863.5,495.6 L864.5,495.2 L865.5,494.9 L866.5,494.6 L867.5,494.2 L868.5,493.9 L869.5,493.6 L870.5,493.2 L871.5,492.9 L872.5,492.6 L873.5,492.2 L874.5,491.9 L875.5,491.6 L876.5,491.3 L877.5,490.9 L878.5,490.6 L879.5,490.2 L880.5,489.9 L881.5,489.6 L882.5,489.2 L883.5,488.9 L884.5,488.5 L885.5,488.1 L886.5,487.6 L887.5,487.1 L888.5,486.6 L889.5,486.0 L890.5,485.5 L891.5,484.9 L892.5,484.3 L893.5,483.8 L894.5,483.3 L895.0,482.8 L895.0,539.6 L894.5,539.8 L893.5,540.1 L892.5,540.3 L891.5,540.5 L890.5,540.8 L889.5,541.1 L888.5,541.3 L887.5,541.6 L886.5,541.9 L885.5,542.1 L884.5,542.4 L883.5,542.7 L882.5,542.9 L881.5,543.2 L880.5,543.5 L879.5,543.7 L878.5,544.0 L877.5,544.3 L876.5,544.5 L875.5,544.8 L874.5,545.1 L873.5,545.3 L872.5,545.6 L871.5,545.9 L870.5,546.1 L869.5,546.4 L868.5,546.7 L867.5,547.0 L866.5,547.3 L865.5,547.6 L864.5,547.9 L863.5,548.2 L862.5,548.5 L861.5,548.8 L860.5,549.1 L859.5,549.4 L858.5,549.8 L857.5,550.1 L856.5,550.4 L855.5,550.7 L854.5,551.0 L853.5,551.3 L852.5,551.6 L851.5,551.9 L850.5,552.2 L849.5,552.5 L848.5,552.8 L847.5,553.0 L846.5,553.2 L845.5,553.4 L844.5,553.5 L843.5,553.6 L842.5,553.7 L841.5,553.7 L840.5,553.7 L839.5,553.8 L838.5,553.8 L837.5,553.8 L836.5,553.8 L835.5,553.9 L834.5,553.9 L833.5,553.9 L832.5,553.9 L831.5,554.0 L830.5,554.0 L829.5,554.0 L828.5,554.0 L827.5,554.1 L826.5,554.1 L825.5,554.1 L824.5,554.2 L823.5,554.2 L822.5,554.2 L821.5,554.2 L820.5,554.3 L819.5,554.3 L818.5,554.3 L817.5,554.3 L816.5,554.4 L815.5,554.4 L814.5,554.4 L813.5,554.4 L812.5,554.4 L811.5,554.3 L810.5,554.3 L809.5,554.2 L808.5,554.1 L807.5,554.0 L806.5,553.8 L805.5,553.7 L804.5,553.5 L803.5,553.4 L802.5,553.2 L801.5,553.1 L800.5,552.9 L799.5,552.7 L798.5,552.6 L797.5,552.4 L796.5,552.3 L795.5,552.1 L794.5,552.0 L793.5,551.8 L792.5,551.7 L791.5,551.5 L790.5,551.4 L789.5,551.2 L788.5,551.1 L787.5,550.9 L786.5,550.8 L785.5,550.6 L784.5,550.5 L783.5,550.3 L782.5,550.2 L781.5,550.0 L780.5,549.9 L779.5,549.7 L778.5,549.6 L777.5,549.4 L776.5,549.3 L775.5,549.1 L774.5,548.9 L773.5,548.8 L772.5,548.6 L771.5,548.5 L770.5,548.3 L769.5,548.2 L768.5,548.0 L767.5,547.9 L766.5,547.7 L765.5,547.6 L764.5,547.4 L763.5,547.2 L762.5,547.0 L761.5,546.7 L760.5,546.5 L759.5,546.2 L758.5,546.0 L757.5,545.7 L756.5,545.5 L755.5,545.2 L754.5,544.9 L753.5,544.6 L752.5,544.4 L751.5,544.1 L750.5,543.8 L749.5,543.6 L748.5,543.3 L747.5,543.0 L746.5,542.8 L745.5,542.5 L744.5,542.2 L743.5,542.0 L742.5,541.7 L741.5,541.4 L740.5,541.1 L739.5,540.8 L738.5,540.5 L737.5,540.2 L736.5,539.8 L735.5,539.5 L734.5,539.1 L733.5,538.8 L732.5,538.4 L731.5,538.0 L730.5,537.7 L729.5,537.3 L728.5,536.9 L727.5,536.6 L726.5,536.2 L725.5,535.8 L724.5,535.5 L723.5,535.1 L722.5,534.8 L721.5,534.4 L720.5,534.0 L719.5,533.7 L718.5,533.3 L717.5,532.9 L716.5,532.6 L715.5,532.2 L714.5,531.9 L713.5,531.5 L712.5,531.2 L711.5,530.8 L710.5,530.5 L709.5,530.2 L708.5,529.8 L707.5,529.5 L706.5,529.2 L705.5,528.8 L704.5,528.5 L703.5,528.2 L702.5,527.8 L701.5,527.5 L700.5,527.2 L699.5,526.9 L698.5,526.5 L697.5,526.2 L696.5,525.9 L695.5,525.5 L694.5,525.2 L693.5,524.9 L692.5,524.5 L691.5,524.2 L690.5,523.8 L689.5,523.5 L688.5,523.1 L687.5,522.8 L686.5,522.4 L685.5,522.0 L684.5,521.7 L683.5,521.3 L682.5,520.9 L681.5,520.6 L680.5,520.2 L679.5,519.9 L678.5,519.6 L677.5,519.3 L676.5,519.0 L675.5,518.7 L674.5,518.4 L673.5,518.1 L672.5,517.8 L671.5,517.4 L670.5,517.1 L669.5,516.9 L668.5,516.5 L667.5,516.3 L666.5,516.0 L665.5,515.7 L664.5,515.4 L663.5,515.1 L662.5,514.8 L661.5,514.5 L660.5,514.2 L659.5,514.0 L658.5,513.7 L657.5,513.5 L656.5,513.3 L655.5,513.1 L654.5,512.9 L653.5,512.7 L652.5,512.5 L651.5,512.2 L650.5,511.9 L649.5,511.6 L648.5,511.3 L647.5,511.0 L646.5,510.6 L645.5,510.2 L644.5,509.8 L643.5,509.4 L642.5,509.0 L641.5,508.6 L640.5,508.2 L639.5,507.8 L638.5,507.4 L637.5,507.0 L636.5,506.6 L635.5,506.2 L634.5,505.7 L633.5,505.3 L632.5,504.8 L631.5,504.2 L630.5,503.6 L629.5,503.0 L628.5,502.4 L627.5,501.7 L626.5,501.1 L625.5,500.4 L624.5,499.8 L623.5,499.1 L622.5,498.5 L621.5,497.8 L620.5,497.2 L619.5,496.5 L618.5,495.9 L617.5,495.2 L616.5,494.6 L615.5,494.0 L614.5,493.3 L613.5,492.7 L612.5,492.1 L611.5,491.5 L610.5,490.9 L609.5,490.3 L608.5,489.7 L607.5,489.1 L606.5,488.5 L605.5,487.9 L604.5,487.3 L603.5,486.7 L602.5,486.1 L601.5,485.5 L600.5,484.9 L599.5,484.3 L598.5,483.6 L597.5,483.0 L596.5,482.3 L595.5,481.6 L594.5,480.8 L593.5,480.1 L592.5,479.4 L591.5,478.6 L590.5,477.9 L589.5,477.1 L588.5,476.4 L587.5,475.6 L586.5,474.9 L585.5,474.1 L584.5,473.4 L583.5,472.6 L582.5,471.8 L581.5,470.9 L580.5,470.0 L579.5,469.1 L578.5,468.0 L577.5,467.0 L576.5,465.9 L575.5,464.9 L574.5,463.9 L573.5,463.0 L572.5,462.1 L571.5,461.2 L570.5,460.4 L569.5,459.6 L568.5,458.8 L567.5,458.0 L566.5,457.2 L565.5,456.4 L564.5,455.6 L563.5,454.8 L562.5,454.0 L561.5,453.1 L560.5,452.3 L559.5,451.4 L558.5,450.5 L557.5,449.6 L556.5,448.7 L555.5,447.8 L554.5,446.9 L553.5,445.9 L552.5,445.0 L551.5,444.1 L550.5,443.1 L549.5,442.2 L548.5,441.3 L547.5,440.4 L546.5,439.5 L545.5,438.7 L544.5,438.0 L543.5,437.2 L542.5,436.6 L541.5,435.9 L540.5,435.3 L539.5,434.7 L538.5,434.1 L537.5,433.5 L536.5,432.9 L535.5,432.3 L534.5,431.7 L533.5,431.1 L532.5,430.5 L531.5,429.9 L530.5,429.4 L529.5,428.8 L528.5,428.2 L527.5,427.7 L526.5,427.1 L525.5,426.6 L524.5,426.1 L523.5,425.5 L522.5,425.0 L521.5,424.5 L520.5,423.9 L519.5,423.4 L518.5,422.9 L517.5,422.3 L516.5,421.7 L515.5,421.1 L514.5,420.5 L513.5,419.9 L512.5,419.2 L511.5,418.5 L510.5,417.8 L509.5,417.1 L508.5,416.4 L507.5,415.7 L506.5,415.1 L505.5,414.4 L504.5,413.7 L503.5,413.0 L502.5,412.3 L501.5,411.6 L500.5,410.9 L499.5,410.3 L498.5,409.7 L497.5,409.1 L496.5,408.4 L495.5,407.8 L494.5,407.2 L493.5,406.6 L492.5,405.9 L491.5,405.3 L490.5,404.6 L489.5,403.9 L488.5,403.3 L487.5,402.6 L486.5,401.9 L485.5,401.2 L484.5,400.6 L483.5,399.9 L482.5,399.2 L481.5,398.5 L480.5,397.8 L479.5,397.2 L478.5,396.5 L477.5,395.8 L476.5,395.1 L475.5,394.5 L474.5,393.8 L473.5,393.1 L472.5,392.4 L471.5,391.8 L470.5,391.1 L469.5,390.4 L468.5,389.7 L467.5,389.1 L466.5,388.4 L465.5,387.7 L464.5,387.0 L463.5,386.4 L462.5,385.7 L461.5,385.0 L460.5,384.3 L459.5,383.7 L458.5,383.0 L457.5,382.3 L456.5,381.7 L455.5,381.0 L454.5,380.3 L453.5,379.7 L452.5,379.0 L451.5,378.4 L450.5,377.7 L449.5,377.1 L448.5,376.4 L447.5,375.7 L446.5,375.1 L445.5,374.4 L444.5,373.8 L443.5,373.1 L442.5,372.5 L441.5,371.8 L440.5,371.1 L439.5,370.4 L438.5,369.7 L437.5,369.0 L436.5,368.3 L435.5,367.6 L434.5,366.9 L433.5,366.2 L432.5,365.5 L431.5,364.8 L430.5,364.1 L429.5,363.4 L428.5,362.7 L427.5,362.0 L426.5,361.3 L425.5,360.5 L424.5,359.8 L423.5,359.0 L422.5,358.2 L421.5,357.4 L420.5,356.6 L419.5,355.8 L418.5,355.0 L417.5,354.2 L416.5,353.4 L415.5,352.6 L414.5,351.8 L413.5,351.1 L412.5,350.3 L411.5,349.6 L410.5,349.0 L409.5,348.4 L408.5,347.8 L407.5,347.3 L406.5,346.8 L405.5,346.3 L404.5,345.8 L403.5,345.3 L402.5,344.7 L401.5,344.2 L400.5,343.7 L399.5,343.2 L398.5,342.7 L397.5,342.2 L396.5,341.7 L395.5,341.1 L394.5,340.5 L393.5,340.0 L392.5,339.4 L391.5,338.8 L390.5,338.2 L389.5,337.6 L388.5,336.9 L387.5,336.3 L386.5,335.7 L385.5,335.1 L384.5,334.5 L383.5,333.8 L382.5,333.2 L381.5,332.5 L380.5,331.8 L379.5,331.0 L378.5,330.2 L377.5,329.5 L376.5,328.7 L375.5,327.9 L374.5,327.1 L373.5,326.4 L372.5,325.6 L371.5,324.9 L370.5,324.2 L369.5,323.6 L368.5,323.0 L367.5,322.4 L366.5,321.9 L365.5,321.3 L364.5,320.8 L363.5,320.3 L362.5,319.8 L361.5,319.3 L360.5,318.8 L359.5,318.3 L358.5,317.8 L357.5,317.3 L356.5,316.8 L355.5,316.3 L354.5,315.9 L353.5,315.4 L352.5,315.0 L351.5,314.6 L350.5,314.2 L349.5,313.8 L348.5,313.4 L347.5,313.1 L346.5,312.7 L345.5,312.3 L344.5,311.9 L343.5,311.6 L342.5,311.2 L341.5,310.8 L340.5,310.4 L339.5,310.1 L338.5,309.7 L337.5,309.3 L336.5,308.9 L335.5,308.6 L334.5,308.2 L333.5,307.8 L332.5,307.4 L331.5,307.1 L330.5,306.7 L329.5,306.3 L328.5,305.9 L327.5,305.6 L326.5,305.2 L325.5,304.8 L324.5,304.4 L323.5,304.1 L322.5,303.7 L321.5,303.4 L320.5,303.0 L319.5,302.6 L318.5,302.3 L317.5,302.0 L316.5,301.6 L315.5,301.3 L314.5,300.9 L313.5,300.6 L312.5,300.2 L311.5,299.9 L310.5,299.5 L309.5,299.2 L308.5,298.9 L307.5,298.5 L306.5,298.2 L305.5,297.8 L304.5,297.5 L303.5,297.1 L302.5,296.8 L301.5,296.5 L300.5,296.1 L299.5,295.8 L298.5,295.4 L297.5,295.1 L296.5,294.7 L295.5,294.4 L294.5,294.0 L293.5,293.7 L292.5,293.3 L291.5,292.9 L290.5,292.5 L289.5,292.0 L288.5,291.6 L287.5,291.0 L286.5,290.5 L285.5,290.0 L284.5,289.4 L283.5,288.8 L282.5,288.3 L281.5,287.7 L280.5,287.2 L279.5,286.6 L278.5,286.0 L277.5,285.5 L276.5,284.9 L275.5,284.3 L274.5,283.8 L273.5,283.2 L272.5,282.7 L271.5,282.1 L270.5,281.6 L269.5,281.0 L268.5,280.5 L267.5,279.9 L266.5,279.4 L265.5,278.8 L264.5,278.3 L263.5,277.7 L262.5,277.2 L261.5,276.6 L260.5,276.1 L259.5,275.5 L258.5,275.0 L257.5,274.4 L256.5,273.9 L255.5,273.4 L254.5,272.9 L253.5,272.5 L252.5,272.1 L251.5,271.7 L250.5,271.3 L249.5,271.0 L248.5,270.6 L247.5,270.3 L246.5,269.9 L245.5,269.6 L244.5,269.2 L243.5,268.9 L242.5,268.5 L241.5,268.2 L240.5,267.9 L239.5,267.5 L238.5,267.2 L237.5,266.9 L236.5,266.6 L235.5,266.3 L234.5,266.0 L233.5,265.7 L232.5,265.5 L231.5,265.2 L230.5,264.9 L229.5,264.6 L228.5,264.3 L227.5,264.0 L226.5,263.8 L225.5,263.5 L224.5,263.2 L223.5,262.9 L222.5,262.5 L221.5,262.2 L220.5,261.8 L219.5,261.4 L218.5,261.0 L217.5,260.5 L216.5,260.1 L215.5,259.7 L214.5,259.2 L213.5,258.8 L212.5,258.3 L211.5,257.9 L210.5,257.5 L209.5,257.0 L208.5,256.6 L207.5,256.1 L206.5,255.7 L205.5,255.2 L204.5,254.8 L203.5,254.3 L202.5,253.9 L201.5,253.4 L200.5,252.9 L199.5,252.5 L198.5,252.0 L197.5,251.5 L196.5,251.0 L195.5,250.6 L194.5,250.1 L193.5,249.6 L192.5,249.2 L191.5,248.7 L190.5,248.2 L189.5,247.8 L188.5,247.3 L187.5,246.9 L186.5,246.4 L185.5,246.0 L184.5,245.5 L183.5,245.1 L182.5,244.6 L181.5,244.2 L180.5,243.7 L179.5,243.3 L178.5,242.8 L177.5,242.4 L176.5,241.9 L175.5,241.5 L174.5,241.1 L173.5,240.7 L172.5,240.3 L171.5,239.9 L170.5,239.6 L169.5,239.2 L168.5,238.9 L167.5,238.5 L166.5,238.2 L165.5,237.8 L164.5,237.5 L163.5,237.1 L162.5,236.8 L161.5,236.4 L160.5,236.1 L159.5,235.8 L158.5,235.5 L157.5,235.2 L156.5,234.9 L155.5,234.6 L154.5,234.3 L153.5,234.1 L152.5,233.8 L151.5,233.6 L150.5,233.3 L149.5,233.1 L148.5,232.8 L147.5,232.6 L146.5,232.3 L145.5,232.1 L144.5,231.8 L143.5,231.6 L142.5,231.3 L141.5,231.1 L140.5,230.8 L139.5,230.6 L138.5,230.3 L137.5,230.1 L136.5,229.8 L135.5,229.6 L134.5,229.3 L133.5,229.1 L132.5,228.8 L131.5,228.6 L130.5,228.3 L129.5,228.1 L128.5,227.8 L127.5,227.6 L126.5,227.3 L125.5,227.1 L124.5,226.8 L123.5,226.6 L122.5,226.3 L121.5,226.1 L120.5,225.8 L119.5,225.6 L118.5,225.3 L117.5,225.1 L116.5,224.8 L115.5,224.6 L114.5,224.3 L113.5,224.0 L112.5,223.8 L111.5,223.4 L110.5,223.1 L109.5,222.6 L108.5,222.2 L107.5,221.6 L106.5,221.1 L105.5,220.5 L104.5,219.9 L103.5,219.3 L102.5,218.7 L101.5,218.2 L100.5,217.6 L99.5,217.0 L98.5,216.4 L97.5,215.8 L96.5,215.2 L95.5,214.6 L94.5,214.0 Z" fill="#cdcdcd"/>
<path d="M94.5,198.4 L95.5,199.0 L96.5,199.5 L97.5,200.1 L98.5,200.6 L99.5,201.2 L100.5,201.7 L101.5,202.3 L102.5,202.8 L103.5,203.4 L104.5,203.9 L105.5,204.5 L106.5,205.0 L107.5,205.5 L108.5,206.1 L109.5,206.6 L110.5,207.0 L111.5,207.5 L112.5,207.9 L113.5,208.4 L114.5,208.8 L115.5,209.2 L116.5,209.6 L117.5,210.0 L118.5,210.5 L119.5,210.9 L120.5,211.3 L121.5,211.7 L122.5,212.1 L123.5,212.5 L124.5,212.9 L125.5,213.3 L126.5,213.7 L127.5,214.1 L128.5,214.5 L129.5,214.9 L130.5,215.3 L131.5,215.7 L132.5,216.1 L133.5,216.5 L134.5,217.0 L135.5,217.4 L136.5,217.8 L137.5,218.2 L138.5,218.6 L139.5,219.0 L140.5,219.5 L141.5,219.9 L142.5,220.3 L143.5,220.8 L144.5,221.2 L145.5,221.7 L146.5,222.2 L147.5,222.7 L148.5,223.1 L149.5,223.6 L150.5,224.1 L151.5,224.6 L152.5,225.1 L153.5,225.5 L154.5,226.0 L155.5,226.5 L156.5,227.0 L157.5,227.4 L158.5,227.9 L159.5,228.4 L160.5,228.9 L161.5,229.3 L162.5,229.8 L163.5,230.3 L164.5,230.7 L165.5,231.2 L166.5,231.7 L167.5,232.1 L168.5,232.6 L169.5,233.0 L170.5,233.5 L171.5,233.9 L172.5,234.3 L173.5,234.7 L174.5,235.0 L175.5,235.3 L176.5,235.6 L177.5,235.8 L178.5,236.1 L179.5,236.3 L180.5,236.5 L181.5,236.7 L182.5,237.0 L183.5,237.2 L184.5,237.4 L185.5,237.6 L186.5,237.8 L187.5,238.1 L188.5,238.3 L189.5,238.6 L190.5,238.9 L191.5,239.2 L192.5,239.5 L193.5,239.9 L194.5,240.2 L195.5,240.6 L196.5,240.9 L197.5,241.3 L198.5,241.7 L199.5,242.1 L200.5,242.4 L201.5,242.8 L202.5,243.2 L203.5,243.5 L204.5,243.8 L205.5,244.2 L206.5,244.5 L207.5,244.8 L208.5,245.1 L209.5,245.3 L210.5,245.6 L211.5,245.9 L212.5,246.1 L213.5,246.4 L214.5,246.6 L215.5,246.9 L216.5,247.1 L217.5,247.4 L218.5,247.6 L219.5,247.9 L220.5,248.1 L221.5,248.4 L222.5,248.6 L223.5,248.9 L224.5,249.1 L225.5,249.4 L226.5,249.6 L227.5,249.9 L228.5,250.1 L229.5,250.4 L230.5,250.6 L231.5,250.9 L232.5,251.1 L233.5,251.4 L234.5,251.7 L235.5,251.9 L236.5,252.2 L237.5,252.5 L238.5,252.8 L239.5,253.2 L240.5,253.5 L241.5,253.8 L242.5,254.2 L243.5,254.6 L244.5,254.9 L245.5,255.3 L246.5,255.7 L247.5,256.1 L248.5,256.4 L249.5,256.8 L250.5,257.2 L251.5,257.6 L252.5,258.0 L253.5,258.4 L254.5,258.8 L255.5,259.3 L256.5,259.7 L257.5,260.2 L258.5,260.6 L259.5,261.1 L260.5,261.6 L261.5,262.0 L262.5,262.5 L263.5,263.0 L264.5,263.4 L265.5,263.9 L266.5,264.4 L267.5,264.8 L268.5,265.3 L269.5,265.8 L270.5,266.2 L271.5,266.7 L272.5,267.2 L273.5,267.6 L274.5,268.1 L275.5,268.6 L276.5,269.0 L277.5,269.5 L278.5,270.0 L279.5,270.4 L280.5,270.9 L281.5,271.4 L282.5,271.8 L283.5,272.3 L284.5,272.7 L285.5,273.2 L286.5,273.6 L287.5,274.0 L288.5,274.4 L289.5,274.8 L290.5,275.2 L291.5,275.6 L292.5,275.9 L293.5,276.3 L294.5,276.7 L295.5,277.1 L296.5,277.4 L297.5,277.8 L298.5,278.2 L299.5,278.5 L300.5,278.9 L301.5,279.3 L302.5,279.6 L303.5,280.0 L304.5,280.3 L305.5,280.7 L306.5,281.0 L307.5,281.4 L308.5,281.7 L309.5,282.1 L310.5,282.4 L311.5,282.8 L312.5,283.1 L313.5,283.5 L314.5,283.8 L315.5,284.2 L316.5,284.6 L317.5,285.0 L318.5,285.4 L319.5,285.8 L320.5,286.2 L321.5,286.6 L322.5,287.1 L323.5,287.5 L324.5,288.0 L325.5,288.4 L326.5,288.9 L327.5,289.3 L328.5,289.8 L329.5,290.2 L330.5,290.7 L331.5,291.1 L332.5,291.6 L333.5,292.0 L334.5,292.5 L335.5,293.0 L336.5,293.4 L337.5,293.9 L338.5,294.4 L339.5,294.9 L340.5,295.4 L341.5,296.0 L342.5,296.5 L343.5,297.1 L344.5,297.6 L345.5,298.2 L346.5,298.8 L347.5,299.3 L348.5,299.9 L349.5,300.5 L350.5,301.1 L351.5,301.7 L352.5,302.3 L353.5,302.9 L354.5,303.5 L355.5,304.1 L356.5,304.6 L357.5,305.2 L358.5,305.8 L359.5,306.3 L360.5,306.9 L361.5,307.4 L362.5,308.0 L363.5,308.5 L364.5,309.1 L365.5,309.6 L366.5,310.1 L367.5,310.6 L368.5,311.1 L369.5,311.5 L370.5,312.0 L371.5,312.4 L372.5,312.9 L373.5,313.3 L374.5,313.7 L375.5,314.0 L376.5,314.4 L377.5,314.8 L378.5,315.2 L379.5,315.6 L380.5,315.9 L381.5,316.3 L382.5,316.7 L383.5,317.1 L384.5,317.5 L385.5,317.8 L386.5,318.2 L387.5,318.6 L388.5,319.1 L389.5,319.5 L390.5,320.0 L391.5,320.4 L392.5,320.9 L393.5,321.4 L394.5,321.9 L395.5,322.4 L396.5,323.0 L397.5,323.5 L398.5,324.0 L399.5,324.6 L400.5,325.1 L401.5,325.7 L402.5,326.2 L403.5,326.8 L404.5,327.3 L405.5,327.9 L406.5,328.5 L407.5,329.1 L408.5,329.7 L409.5,330.4 L410.5,331.0 L411.5,331.6 L412.5,332.3 L413.5,332.9 L414.5,333.5 L415.5,334.2 L416.5,334.8 L417.5,335.5 L418.5,336.1 L419.5,336.8 L420.5,337.5 L421.5,338.2 L422.5,338.9 L423.5,339.6 L424.5,340.3 L425.5,341.0 L426.5,341.8 L427.5,342.5 L428.5,343.2 L429.5,344.0 L430.5,344.7 L431.5,345.5 L432.5,346.2 L433.5,347.0 L434.5,347.7 L435.5,348.5 L436.5,349.3 L437.5,350.0 L438.5,350.8 L439.5,351.6 L440.5,352.4 L441.5,353.2 L442.5,354.0 L443.5,354.8 L444.5,355.6 L445.5,356.4 L446.5,357.2 L447.5,358.0 L448.5,358.8 L449.5,359.5 L450.5,360.3 L451.5,361.1 L452.5,361.9 L453.5,362.6 L454.5,363.4 L455.5,364.1 L456.5,364.9 L457.5,365.6 L458.5,366.4 L459.5,367.2 L460.5,368.0 L461.5,368.7 L462.5,369.5 L463.5,370.3 L464.5,371.1 L465.5,371.9 L466.5,372.7 L467.5,373.5 L468.5,374.3 L469.5,375.1 L470.5,375.9 L471.5,376.7 L472.5,377.5 L473.5,378.3 L474.5,379.1 L475.5,379.9 L476.5,380.7 L477.5,381.4 L478.5,382.2 L479.5,383.0 L480.5,383.7 L481.5,384.4 L482.5,385.1 L483.5,385.8 L484.5,386.5 L485.5,387.2 L486.5,387.9 L487.5,388.6 L488.5,389.2 L489.5,389.9 L490.5,390.6 L491.5,391.3 L492.5,391.9 L493.5,392.6 L494.5,393.3 L495.5,393.9 L496.5,394.6 L497.5,395.2 L498.5,395.9 L499.5,396.5 L500.5,397.1 L501.5,397.7 L502.5,398.3 L503.5,398.8 L504.5,399.4 L505.5,399.9 L506.5,400.5 L507.5,401.0 L508.5,401.5 L509.5,402.1 L510.5,402.6 L511.5,403.1 L512.5,403.7 L513.5,404.2 L514.5,404.7 L515.5,405.3 L516.5,405.8 L517.5,406.3 L518.5,406.9 L519.5,407.4 L520.5,407.9 L521.5,408.5 L522.5,409.0 L523.5,409.5 L524.5,410.1 L525.5,410.6 L526.5,411.2 L527.5,411.7 L528.5,412.3 L529.5,412.8 L530.5,413.4 L531.5,414.0 L532.5,414.5 L533.5,415.1 L534.5,415.7 L535.5,416.3 L536.5,416.9 L537.5,417.5 L538.5,418.1 L539.5,418.7 L540.5,419.3 L541.5,419.9 L542.5,420.5 L543.5,421.2 L544.5,421.8 L545.5,422.5 L546.5,423.1 L547.5,423.8 L548.5,424.5 L549.5,425.2 L550.5,425.9 L551.5,426.6 L552.5,427.3 L553.5,427.9 L554.5,428.6 L555.5,429.3 L556.5,430.0 L557.5,430.7 L558.5,431.4 L559.5,432.1 L560.5,432.7 L561.5,433.4 L562.5,434.1 L563.5,434.7 L564.5,435.3 L565.5,436.0 L566.5,436.6 L567.5,437.3 L568.5,437.9 L569.5,438.5 L570.5,439.2 L571.5,439.8 L572.5,440.5 L573.5,441.2 L574.5,441.9 L575.5,442.6 L576.5,443.3 L577.5,444.1 L578.5,444.8 L579.5,445.6 L580.5,446.4 L581.5,447.2 L582.5,448.0 L583.5,448.8 L584.5,449.6 L585.5,450.3 L586.5,451.1 L587.5,451.8 L588.5,452.5 L589.5,453.2 L590.5,453.8 L591.5,454.4 L592.5,455.0 L593.5,455.5 L594.5,456.0 L595.5,456.5 L596.5,457.0 L597.5,457.5 L598.5,458.0 L599.5,458.4 L600.5,458.9 L601.5,459.4 L602.5,459.8 L603.5,460.3 L604.5,460.7 L605.5,461.2 L606.5,461.6 L607.5,462.1 L608.5,462.5 L609.5,462.9 L610.5,463.4 L611.5,463.8 L612.5,464.3 L613.5,464.7 L614.5,465.1 L615.5,465.6 L616.5,466.0 L617.5,466.5 L618.5,466.9 L619.5,467.4 L620.5,467.9 L621.5,468.4 L622.5,468.9 L623.5,469.4 L624.5,469.9 L625.5,470.4 L626.5,470.9 L627.5,471.4 L628.5,472.0 L629.5,472.5 L630.5,473.0 L631.5,473.5 L632.5,474.1 L633.5,474.6 L634.5,475.1 L635.5,475.6 L636.5,476.2 L637.5,476.7 L638.5,477.2 L639.5,477.7 L640.5,478.2 L641.5,478.7 L642.5,479.2 L643.5,479.7 L644.5,480.2 L645.5,480.7 L646.5,481.2 L647.5,481.7 L648.5,482.2 L649.5,482.7 L650.5,483.2 L651.5,483.7 L652.5,484.2 L653.5,484.7 L654.5,485.2 L655.5,485.7 L656.5,486.2 L657.5,486.7 L658.5,487.1 L659.5,487.6 L660.5,488.0 L661.5,488.4 L662.5,488.8 L663.5,489.2 L664.5,489.6 L665.5,489.9 L666.5,490.3 L667.5,490.6 L668.5,491.0 L669.5,491.3 L670.5,491.7 L671.5,492.0 L672.5,492.4 L673.5,492.7 L674.5,493.1 L675.5,493.4 L676.5,493.8 L677.5,494.1 L678.5,494.5 L679.5,494.8 L680.5,495.2 L681.5,495.5 L682.5,495.9 L683.5,496.2 L684.5,496.6 L685.5,496.9 L686.5,497.2 L687.5,497.5 L688.5,497.8 L689.5,498.1 L690.5,498.3 L691.5,498.6 L692.5,498.8 L693.5,499.0 L694.5,499.2 L695.5,499.4 L696.5,499.6 L697.5,499.8 L698.5,500.1 L699.5,500.3 L700.5,500.7 L701.5,501.0 L702.5,501.5 L703.5,501.9 L704.5,502.4 L705.5,502.8 L706.5,503.3 L707.5,503.8 L708.5,504.3 L709.5,504.9 L710.5,505.4 L711.5,505.9 L712.5,506.4 L713.5,506.9 L714.5,507.4 L715.5,507.9 L716.5,508.4 L717.5,508.9 L718.5,509.4 L719.5,509.9 L720.5,510.3 L721.5,510.7 L722.5,511.1 L723.5,511.5 L724.5,511.8 L725.5,512.2 L726.5,512.4 L727.5,512.7 L728.5,513.0 L729.5,513.2 L730.5,513.5 L731.5,513.7 L732.5,514.0 L733.5,514.2 L734.5,514.5 L735.5,514.7 L736.5,515.0 L737.5,515.2 L738.5,515.5 L739.5,515.7 L740.5,516.0 L741.5,516.2 L742.5,516.5 L743.5,516.7 L744.5,517.0 L745.5,517.2 L746.5,517.5 L747.5,517.7 L748.5,518.0 L749.5,518.2 L750.5,518.5 L751.5,518.7 L752.5,519.0 L753.5,519.2 L754.5,519.4 L755.5,519.7 L756.5,519.9 L757.5,520.1 L758.5,520.4 L759.5,520.6 L760.5,520.8 L761.5,521.1 L762.5,521.3 L763.5,521.5 L764.5,521.7 L765.5,522.0 L766.5,522.2 L767.5,522.4 L768.5,522.6 L769.5,522.9 L770.5,523.1 L771.5,523.3 L772.5,523.5 L773.5,523.7 L774.5,524.0 L775.5,524.2 L776.5,524.4 L777.5,524.6 L778.5,524.9 L779.5,525.1 L780.5,525.3 L781.5,525.5 L782.5,525.8 L783.5,526.0 L784.5,526.2 L785.5,526.4 L786.5,526.6 L787.5,526.8 L788.5,527.0 L789.5,527.1 L790.5,527.3 L791.5,527.4 L792.5,527.6 L793.5,527.7 L794.5,527.8 L795.5,528.0 L796.5,528.1 L797.5,528.2 L798.5,528.4 L799.5,528.5 L800.5,528.6 L801.5,528.8 L802.5,528.9 L803.5,529.0 L804.5,529.2 L805.5,529.3 L806.5,529.4 L807.5,529.6 L808.5,529.7 L809.5,529.8 L810.5,530.0 L811.5,530.1 L812.5,530.2 L813.5,530.4 L814.5,530.5 L815.5,530.7 L816.5,530.8 L817.5,531.0 L818.5,531.2 L819.5,531.3 L820.5,531.5 L821.5,531.6 L822.5,531.8 L823.5,531.9 L824.5,532.1 L825.5,532.2 L826.5,532.4 L827.5,532.5 L828.5,532.7 L829.5,532.8 L830.5,532.9 L831.5,533.0 L832.5,533.0 L833.5,533.1 L834.5,533.1 L835.5,533.0 L836.5,533.0 L837.5,532.9 L838.5,532.8 L839.5,532.6 L840.5,532.5 L841.5,532.3 L842.5,532.2 L843.5,532.0 L844.5,531.9 L845.5,531.7 L846.5,531.6 L847.5,531.4 L848.5,531.2 L849.5,531.1 L850.5,530.8 L851.5,530.6 L852.5,530.4 L853.5,530.1 L854.5,529.9 L855.5,529.6 L856.5,529.3 L857.5,529.0 L858.5,528.7 L859.5,528.4 L860.5,528.1 L861.5,527.8 L862.5,527.5 L863.5,527.2 L864.5,526.9 L865.5,526.5 L866.5,526.2 L867.5,525.9 L868.5,525.5 L869.5,525.2 L870.5,524.8 L871.5,524.4 L872.5,524.0 L873.5,523.6 L874.5,523.1 L875.5,522.7 L876.5,522.3 L877.5,521.9 L878.5,521.4 L879.5,521.0 L880.5,520.5 L881.5,520.1 L882.5,519.6 L883.5,519.1 L884.5,518.6 L885.5,518.1 L886.5,517.6 L887.5,517.2 L888.5,516.7 L889.5,516.2 L890.5,515.7 L891.5,515.2 L892.5,514.7 L893.5,514.3 L894.5,513.8 L895.0,513.4" fill="none" stroke="#999999" stroke-width="3" stroke-linejoin="round"/>
<path d="M94.5,209.5 L95.5,210.3 L96.5,211.0 L97.5,211.8 L98.5,212.6 L99.5,213.3 L100.5,214.1 L101.5,214.9 L102.5,215.6 L103.5,216.4 L104.5,217.1 L105.5,217.9 L106.5,218.7 L107.5,219.4 L108.5,220.2 L109.5,221.0 L110.5,221.7 L111.5,222.4 L112.5,222.9 L113.5,223.4 L114.5,223.8 L115.5,224.3 L116.5,224.7 L117.5,225.2 L118.5,225.6 L119.5,226.1 L120.5,226.5 L121.5,226.9 L122.5,227.1 L123.5,227.3 L124.5,227.5 L125.5,227.7 L126.5,227.9 L127.5,228.0 L128.5,228.2 L129.5,228.4 L130.5,228.5 L131.5,228.7 L132.5,228.9 L133.5,229.1 L134.5,229.2 L135.5,229.4 L136.5,229.6 L137.5,229.7 L138.5,229.9 L139.5,230.1 L140.5,230.2 L141.5,230.4 L142.5,230.6 L143.5,230.7 L144.5,230.9 L145.5,231.1 L146.5,231.2 L147.5,231.4 L148.5,231.6 L149.5,231.8 L150.5,231.9 L151.5,232.1 L152.5,232.3 L153.5,232.5 L154.5,232.8 L155.5,233.2 L156.5,233.6 L157.5,234.0 L158.5,234.5 L159.5,234.9 L160.5,235.4 L161.5,235.8 L162.5,236.2 L163.5,236.7 L164.5,237.1 L165.5,237.6 L166.5,238.0 L167.5,238.5 L168.5,239.0 L169.5,239.6 L170.5,240.1 L171.5,240.6 L172.5,241.1 L173.5,241.6 L174.5,242.1 L175.5,242.6 L176.5,243.2 L177.5,243.7 L178.5,244.2 L179.5,244.7 L180.5,245.2 L181.5,245.7 L182.5,246.2 L183.5,246.6 L184.5,247.0 L185.5,247.4 L186.5,247.8 L187.5,248.2 L188.5,248.7 L189.5,249.1 L190.5,249.5 L191.5,249.9 L192.5,250.3 L193.5,250.8 L194.5,251.2 L195.5,251.6 L196.5,252.0 L197.5,252.5 L198.5,253.0 L199.5,253.4 L200.5,253.9 L201.5,254.4 L202.5,254.9 L203.5,255.4 L204.5,255.8 L205.5,256.3 L206.5,256.8 L207.5,257.3 L208.5,257.8 L209.5,258.2 L210.5,258.7 L211.5,259.2 L212.5,259.7 L213.5,260.1 L214.5,260.6 L215.5,261.1 L216.5,261.5 L217.5,262.0 L218.5,262.5 L219.5,263.0 L220.5,263.4 L221.5,263.9 L222.5,264.3 L223.5,264.6 L224.5,264.9 L225.5,265.1 L226.5,265.3 L227.5,265.5 L228.5,265.8 L229.5,266.0 L230.5,266.2 L231.5,266.4 L232.5,266.6 L233.5,266.8 L234.5,267.1 L235.5,267.3 L236.5,267.5 L237.5,267.8 L238.5,268.1 L239.5,268.4 L240.5,268.7 L241.5,269.0 L242.5,269.3 L243.5,269.6 L244.5,269.9 L245.5,270.2 L246.5,270.5 L247.5,270.8 L248.5,271.1 L249.5,271.4 L250.5,271.8 L251.5,272.2 L252.5,272.8 L253.5,273.5 L254.5,274.3 L255.5,275.0 L256.5,275.8 L257.5,276.6 L258.5,277.3 L259.5,278.1 L260.5,278.8 L261.5,279.6 L262.5,280.4 L263.5,281.1 L264.5,281.8 L265.5,282.5 L266.5,283.1 L267.5,283.8 L268.5,284.4 L269.5,285.1 L270.5,285.7 L271.5,286.4 L272.5,287.1 L273.5,287.7 L274.5,288.4 L275.5,289.0 L276.5,289.7 L277.5,290.3 L278.5,291.0 L279.5,291.7 L280.5,292.4 L281.5,293.0 L282.5,293.7 L283.5,294.4 L284.5,295.1 L285.5,295.8 L286.5,296.4 L287.5,297.1 L288.5,297.8 L289.5,298.6 L290.5,299.5 L291.5,300.6 L292.5,301.8 L293.5,303.0 L294.5,304.1 L295.5,305.3 L296.5,306.5 L297.5,307.7 L298.5,308.9 L299.5,310.2 L300.5,311.5 L301.5,312.8 L302.5,314.1 L303.5,315.3 L304.5,316.6 L305.5,317.9 L306.5,319.2 L307.5,320.5 L308.5,321.8 L309.5,323.0 L310.5,324.1 L311.5,325.2 L312.5,326.3 L313.5,327.4 L314.5,328.5 L315.5,329.6 L316.5,330.7 L317.5,331.8 L318.5,332.9 L319.5,333.9 L320.5,334.8 L321.5,335.7 L322.5,336.6 L323.5,337.5 L324.5,338.4 L325.5,339.3 L326.5,340.2 L327.5,341.1 L328.5,342.0 L329.5,342.8 L330.5,343.6 L331.5,344.4 L332.5,345.2 L333.5,345.9 L334.5,346.7 L335.5,347.4 L336.5,348.2 L337.5,349.0 L338.5,349.7 L339.5,350.5 L340.5,351.2 L341.5,351.9 L342.5,352.6 L343.5,353.2 L344.5,353.8 L345.5,354.4 L346.5,355.0 L347.5,355.6 L348.5,356.2 L349.5,356.8 L350.5,357.4 L351.5,358.0 L352.5,358.6 L353.5,359.2 L354.5,359.7 L355.5,360.2 L356.5,360.6 L357.5,361.1 L358.5,361.5 L359.5,362.0 L360.5,362.4 L361.5,362.9 L362.5,363.3 L363.5,363.8 L364.5,364.2 L365.5,364.7 L366.5,365.1 L367.5,365.6 L368.5,366.1 L369.5,366.6 L370.5,367.2 L371.5,367.8 L372.5,368.4 L373.5,368.9 L374.5,369.5 L375.5,370.1 L376.5,370.8 L377.5,371.3 L378.5,372.0 L379.5,372.6 L380.5,373.2 L381.5,373.8 L382.5,374.6 L383.5,375.4 L384.5,376.2 L385.5,376.9 L386.5,377.7 L387.5,378.6 L388.5,379.4 L389.5,380.1 L390.5,380.9 L391.5,381.7 L392.5,382.5 L393.5,383.3 L394.5,384.1 L395.5,384.8 L396.5,385.5 L397.5,386.2 L398.5,386.9 L399.5,387.6 L400.5,388.3 L401.5,389.0 L402.5,389.7 L403.5,390.4 L404.5,391.1 L405.5,391.8 L406.5,392.6 L407.5,393.5 L408.5,394.5 L409.5,395.5 L410.5,396.5 L411.5,397.5 L412.5,398.5 L413.5,399.5 L414.5,400.5 L415.5,401.5 L416.5,402.5 L417.5,403.5 L418.5,404.5 L419.5,405.5 L420.5,406.5 L421.5,407.5 L422.5,408.5 L423.5,409.5 L424.5,410.5 L425.5,411.5 L426.5,412.5 L427.5,413.5 L428.5,414.5 L429.5,415.5 L430.5,416.5 L431.5,417.5 L432.5,418.5 L433.5,419.5 L434.5,420.5 L435.5,421.5 L436.5,422.5 L437.5,423.5 L438.5,424.5 L439.5,425.5 L440.5,426.5 L441.5,427.5 L442.5,428.5 L443.5,429.5 L444.5,430.5 L445.5,431.5 L446.5,432.5 L447.5,433.4 L448.5,434.3 L449.5,435.2 L450.5,436.1 L451.5,437.0 L452.5,437.9 L453.5,438.8 L454.5,439.7 L455.5,440.6 L456.5,441.5 L457.5,442.4 L458.5,443.3 L459.5,444.1 L460.5,445.0 L461.5,445.8 L462.5,446.7 L463.5,447.5 L464.5,448.3 L465.5,449.2 L466.5,450.0 L467.5,450.8 L468.5,451.7 L469.5,452.5 L470.5,453.3 L471.5,454.2 L472.5,455.0 L473.5,455.8 L474.5,456.5 L475.5,457.1 L476.5,457.7 L477.5,458.3 L478.5,458.9 L479.5,459.5 L480.5,460.1 L481.5,460.7 L482.5,461.3 L483.5,462.0 L484.5,462.6 L485.5,463.2 L486.5,463.8 L487.5,464.5 L488.5,465.2 L489.5,465.9 L490.5,466.6 L491.5,467.2 L492.5,467.9 L493.5,468.6 L494.5,469.3 L495.5,470.1 L496.5,470.8 L497.5,471.5 L498.5,472.2 L499.5,472.9 L500.5,473.7 L501.5,474.5 L502.5,475.3 L503.5,476.1 L504.5,476.9 L505.5,477.7 L506.5,478.5 L507.5,479.3 L508.5,480.1 L509.5,480.9 L510.5,481.7 L511.5,482.4 L512.5,483.1 L513.5,483.7 L514.5,484.3 L515.5,484.9 L516.5,485.5 L517.5,486.1 L518.5,486.7 L519.5,487.3 L520.5,487.9 L521.5,488.5 L522.5,489.1 L523.5,489.7 L524.5,490.2 L525.5,490.7 L526.5,491.2 L527.5,491.7 L528.5,492.2 L529.5,492.7 L530.5,493.2 L531.5,493.7 L532.5,494.2 L533.5,494.8 L534.5,495.3 L535.5,495.8 L536.5,496.4 L537.5,497.0 L538.5,497.7 L539.5,498.5 L540.5,499.2 L541.5,499.9 L542.5,500.7 L543.5,501.4 L544.5,502.2 L545.5,502.9 L546.5,503.7 L547.5,504.4 L548.5,505.1 L549.5,505.9 L550.5,506.6 L551.5,507.4 L552.5,508.2 L553.5,508.9 L554.5,509.7 L555.5,510.4 L556.5,511.2 L557.5,512.0 L558.5,512.7 L559.5,513.5 L560.5,514.3 L561.5,515.1 L562.5,515.9 L563.5,516.8 L564.5,517.7 L565.5,518.6 L566.5,519.5 L567.5,520.4 L568.5,521.3 L569.5,522.2 L570.5,523.1 L571.5,524.0 L572.5,524.9 L573.5,525.7 L574.5,526.5 L575.5,527.3 L576.5,528.0 L577.5,528.7 L578.5,529.4 L579.5,530.1 L580.5,530.8 L581.5,531.5 L582.5,532.2 L583.5,532.9 L584.5,533.6 L585.5,534.3 L586.5,535.0 L587.5,535.7 L588.5,536.4 L589.5,537.1 L590.5,537.8 L591.5,538.5 L592.5,539.2 L593.5,539.9 L594.5,540.6 L595.5,541.3 L596.5,542.0 L597.5,542.7 L598.5,543.5 L599.5,544.3 L600.5,545.3 L601.5,546.3 L602.5,547.3 L603.5,548.2 L604.5,549.2 L605.5,550.3 L606.5,551.3 L607.5,552.3 L608.5,553.4 L609.5,554.5 L610.5,555.8 L611.5,557.2 L612.5,558.6 L613.5,559.9 L614.5,561.3 L615.5,562.7 L616.5,564.1 L617.5,565.4 L618.5,566.7 L619.5,568.0 L620.5,569.2 L621.5,570.3 L622.5,571.4 L623.5,572.6 L624.5,573.7 L625.5,574.8 L626.5,575.9 L627.5,577.0 L628.5,578.1 L629.5,579.1 L630.5,580.0 L631.5,580.9 L632.5,581.8 L633.5,582.7 L634.5,583.6 L635.5,584.4 L636.5,585.3 L637.5,586.2 L638.5,587.0 L639.5,587.8 L640.5,588.5 L641.5,589.2 L642.5,589.9 L643.5,590.6 L644.5,591.3 L645.5,592.0 L646.5,592.7 L647.5,593.4 L648.5,594.1 L649.5,594.8 L650.5,595.5 L651.5,596.2 L652.5,596.8 L653.5,597.4 L654.5,598.0 L655.5,598.6 L656.5,599.2 L657.5,599.8 L658.5,600.4 L659.5,601.0 L660.5,601.7 L661.5,602.3 L662.5,602.9 L663.5,603.5 L664.5,604.1 L665.5,604.7 L666.5,605.4 L667.5,606.1 L668.5,606.7 L669.5,607.4 L670.5,608.0 L671.5,608.7 L672.5,609.4 L673.5,610.0 L674.5,610.7 L675.5,611.3 L676.5,611.9 L677.5,612.5 L678.5,613.1 L679.5,613.6 L680.5,614.2 L681.5,614.7 L682.5,615.2 L683.5,615.8 L684.5,616.3 L685.5,616.9 L686.5,617.4 L687.5,618.0 L688.5,618.5 L689.5,619.1 L690.5,619.8 L691.5,620.5 L692.5,621.2 L693.5,621.9 L694.5,622.6 L695.5,623.3 L696.5,624.0 L697.5,624.7 L698.5,625.4 L699.5,626.0 L700.5,626.7 L701.5,627.3 L702.5,627.9 L703.5,628.5 L704.5,629.2 L705.5,629.8 L706.5,630.4 L707.5,631.0 L708.5,631.6 L709.5,632.2 L710.5,632.8 L711.5,633.5 L712.5,634.1 L713.5,634.7 L714.5,635.3 L715.5,635.9 L716.5,636.5 L717.5,637.1 L718.5,637.7 L719.5,638.3 L720.5,638.9 L721.5,639.5 L722.5,640.1 L723.5,640.6 L724.5,641.1 L725.5,641.6 L726.5,642.0 L727.5,642.4 L728.5,642.8 L729.5,643.2 L730.5,643.6 L731.5,644.0 L732.5,644.4 L733.5,644.8 L734.5,645.1 L735.5,645.4 L736.5,645.7 L737.5,646.0 L738.5,646.3 L739.5,646.6 L740.5,646.8 L741.5,647.1 L742.5,647.4 L743.5,647.7 L744.5,648.0 L745.5,648.3 L746.5,648.5 L747.5,648.8 L748.5,649.1 L749.5,649.3 L750.5,649.6 L751.5,649.9 L752.5,650.1 L753.5,650.4 L754.5,650.7 L755.5,650.9 L756.5,651.2 L757.5,651.4 L758.5,651.7 L759.5,651.9 L760.5,652.1 L761.5,652.3 L762.5,652.4 L763.5,652.6 L764.5,652.8 L765.5,653.0 L766.5,653.2 L767.5,653.4 L768.5,653.6 L769.5,653.8 L770.5,653.9 L771.5,654.1 L772.5,654.3 L773.5,654.5 L774.5,654.6 L775.5,654.7 L776.5,654.8 L777.5,654.8 L778.5,654.9 L779.5,655.0 L780.5,655.1 L781.5,655.1 L782.5,655.2 L783.5,655.3 L784.5,655.4 L785.5,655.4 L786.5,655.5 L787.5,655.6 L788.5,655.7 L789.5,655.8 L790.5,655.9 L791.5,656.0 L792.5,656.2 L793.5,656.3 L794.5,656.4 L795.5,656.5 L796.5,656.7 L797.5,656.8 L798.5,656.9 L799.5,657.0 L800.5,657.2 L801.5,657.3 L802.5,657.4 L803.5,657.5 L804.5,657.7 L805.5,657.8 L806.5,657.9 L807.5,658.1 L808.5,658.2 L809.5,658.3 L810.5,658.5 L811.5,658.6 L812.5,658.7 L813.5,658.9 L814.5,659.0 L815.5,659.1 L816.5,659.3 L817.5,659.4 L818.5,659.5 L819.5,659.7 L820.5,659.8 L821.5,659.9 L822.5,659.9 L823.5,659.9 L824.5,659.9 L825.5,659.9 L826.5,659.9 L827.5,659.8 L828.5,659.8 L829.5,659.7 L830.5,659.7 L831.5,659.7 L832.5,659.6 L833.5,659.5 L834.5,659.4 L835.5,659.2 L836.5,658.9 L837.5,658.6 L838.5,658.3 L839.5,658.0 L840.5,657.7 L841.5,657.5 L842.5,657.2 L843.5,656.9 L844.5,656.6 L845.5,656.3 L846.5,656.0 L847.5,655.7 L848.5,655.4 L849.5,655.1 L850.5,654.7 L851.5,654.4 L852.5,654.0 L853.5,653.7 L854.5,653.3 L855.5,653.0 L856.5,652.6 L857.5,652.3 L858.5,651.9 L859.5,651.6 L860.5,651.2 L861.5,650.9 L862.5,650.5 L863.5,650.2 L864.5,649.9 L865.5,649.6 L866.5,649.3 L867.5,649.0 L868.5,648.7 L869.5,648.4 L870.5,648.1 L871.5,647.9 L872.5,647.6 L873.5,647.3 L874.5,647.0 L875.5,646.7 L876.5,646.4 L877.5,646.1 L878.5,645.8 L879.5,645.4 L880.5,645.1 L881.5,644.7 L882.5,644.4 L883.5,644.0 L884.5,643.6 L885.5,643.3 L886.5,642.9 L887.5,642.5 L888.5,642.2 L889.5,641.8 L890.5,641.5 L891.5,641.1 L892.5,640.7 L893.5,640.4 L894.5,640.0" fill="none" stroke="#00561f" stroke-width="3" stroke-dasharray="7.5,7.5" stroke-linejoin="round"/>
<path d="M94.5,247.3 L95.5,247.8 L96.5,248.4 L97.5,248.9 L98.5,249.4 L99.5,250.0 L100.5,250.5 L101.5,251.1 L102.5,251.6 L103.5,252.1 L104.5,252.7 L105.5,253.2 L106.5,253.8 L107.5,254.4 L108.5,255.0 L109.5,255.7 L110.5,256.4 L111.5,257.1 L112.5,257.8 L113.5,258.5 L114.5,259.1 L115.5,259.7 L116.5,260.2 L117.5,260.7 L118.5,261.2 L119.5,261.7 L120.5,262.2 L121.5,262.7 L122.5,263.2 L123.5,263.7 L124.5,264.2 L125.5,264.6 L126.5,265.0 L127.5,265.5 L128.5,265.9 L129.5,266.3 L130.5,266.7 L131.5,267.1 L132.5,267.5 L133.5,268.0 L134.5,268.4 L135.5,268.8 L136.5,269.2 L137.5,269.5 L138.5,269.9 L139.5,270.2 L140.5,270.6 L141.5,271.0 L142.5,271.3 L143.5,271.7 L144.5,272.0 L145.5,272.4 L146.5,272.7 L147.5,273.1 L148.5,273.5 L149.5,273.8 L150.5,274.2 L151.5,274.5 L152.5,274.8 L153.5,275.1 L154.5,275.4 L155.5,275.8 L156.5,276.1 L157.5,276.4 L158.5,276.7 L159.5,277.1 L160.5,277.4 L161.5,277.7 L162.5,278.0 L163.5,278.3 L164.5,278.6 L165.5,278.8 L166.5,279.0 L167.5,279.3 L168.5,279.5 L169.5,279.7 L170.5,280.0 L171.5,280.3 L172.5,280.7 L173.5,281.0 L174.5,281.4 L175.5,281.7 L176.5,282.1 L177.5,282.4 L178.5,282.8 L179.5,283.1 L180.5,283.5 L181.5,283.8 L182.5,284.2 L183.5,284.5 L184.5,284.8 L185.5,285.2 L186.5,285.5 L187.5,285.8 L188.5,286.2 L189.5,286.5 L190.5,286.8 L191.5,287.2 L192.5,287.5 L193.5,287.8 L194.5,288.2 L195.5,288.5 L196.5,288.8 L197.5,289.2 L198.5,289.5 L199.5,289.8 L200.5,290.2 L201.5,290.5 L202.5,290.8 L203.5,291.2 L204.5,291.5 L205.5,291.8 L206.5,292.2 L207.5,292.5 L208.5,292.8 L209.5,293.2 L210.5,293.5 L211.5,293.8 L212.5,294.2 L213.5,294.5 L214.5,294.8 L215.5,295.2 L216.5,295.4 L217.5,295.7 L218.5,295.9 L219.5,296.1 L220.5,296.3 L221.5,296.5 L222.5,296.7 L223.5,296.9 L224.5,297.1 L225.5,297.3 L226.5,297.5 L227.5,297.7 L228.5,297.9 L229.5,298.2 L230.5,298.5 L231.5,298.8 L232.5,299.2 L233.5,299.5 L234.5,299.8 L235.5,300.2 L236.5,300.5 L237.5,300.8 L238.5,301.2 L239.5,301.5 L240.5,301.8 L241.5,302.2 L242.5,302.5 L243.5,302.8 L244.5,303.2 L245.5,303.5 L246.5,303.9 L247.5,304.4 L248.5,304.9 L249.5,305.4 L250.5,306.0 L251.5,306.6 L252.5,307.2 L253.5,307.8 L254.5,308.4 L255.5,309.1 L256.5,309.8 L257.5,310.5 L258.5,311.1 L259.5,311.8 L260.5,312.5 L261.5,313.2 L262.5,313.9 L263.5,314.6 L264.5,315.2 L265.5,315.8 L266.5,316.4 L267.5,317.1 L268.5,317.9 L269.5,318.7 L270.5,319.5 L271.5,320.3 L272.5,321.2 L273.5,322.0 L274.5,322.8 L275.5,323.6 L276.5,324.4 L277.5,325.2 L278.5,326.0 L279.5,326.6 L280.5,327.0 L281.5,327.4 L282.5,327.8 L283.5,328.2 L284.5,328.6 L285.5,329.0 L286.5,329.4 L287.5,329.7 L288.5,330.1 L289.5,330.5 L290.5,330.9 L291.5,331.3 L292.5,331.7 L293.5,332.2 L294.5,332.6 L295.5,333.1 L296.5,333.5 L297.5,334.0 L298.5,334.5 L299.5,334.9 L300.5,335.4 L301.5,335.9 L302.5,336.3 L303.5,336.8 L304.5,337.3 L305.5,337.9 L306.5,338.5 L307.5,339.0 L308.5,339.6 L309.5,340.2 L310.5,340.8 L311.5,341.3 L312.5,341.9 L313.5,342.4 L314.5,342.8 L315.5,343.0 L316.5,343.2 L317.5,343.4 L318.5,343.6 L319.5,343.8 L320.5,344.0 L321.5,344.1 L322.5,344.3 L323.5,344.5 L324.5,344.6 L325.5,344.6 L326.5,344.6 L327.5,344.7 L328.5,344.7 L329.5,344.7 L330.5,344.7 L331.5,344.7 L332.5,344.8 L333.5,344.8 L334.5,344.8 L335.5,344.7 L336.5,344.7 L337.5,344.6 L338.5,344.6 L339.5,344.5 L340.5,344.5 L341.5,344.5 L342.5,344.7 L343.5,344.9 L344.5,345.2 L345.5,345.5 L346.5,345.9 L347.5,346.2 L348.5,346.5 L349.5,346.9 L350.5,347.4 L351.5,347.9 L352.5,348.5 L353.5,349.1 L354.5,349.7 L355.5,350.4 L356.5,351.0 L357.5,351.6 L358.5,352.2 L359.5,352.9 L360.5,353.6 L361.5,354.4 L362.5,355.1 L363.5,355.9 L364.5,356.6 L365.5,357.4 L366.5,358.1 L367.5,358.9 L368.5,359.6 L369.5,360.4 L370.5,361.1 L371.5,361.9 L372.5,362.6 L373.5,363.4 L374.5,364.1 L375.5,364.7 L376.5,365.4 L377.5,366.1 L378.5,366.8 L379.5,367.4 L380.5,368.1 L381.5,368.7 L382.5,369.4 L383.5,370.1 L384.5,370.8 L385.5,371.4 L386.5,372.1 L387.5,372.8 L388.5,373.5 L389.5,374.3 L390.5,375.3 L391.5,376.3 L392.5,377.3 L393.5,378.2 L394.5,379.2 L395.5,380.2 L396.5,381.2 L397.5,382.2 L398.5,383.2 L399.5,384.2 L400.5,385.2 L401.5,386.2 L402.5,387.2 L403.5,388.2 L404.5,389.0 L405.5,389.7 L406.5,390.4 L407.5,391.1 L408.5,391.8 L409.5,392.4 L410.5,393.1 L411.5,393.9 L412.5,394.8 L413.5,395.8 L414.5,396.8 L415.5,397.8 L416.5,398.8 L417.5,399.9 L418.5,400.9 L419.5,401.9 L420.5,402.9 L421.5,403.9 L422.5,405.0 L423.5,406.0 L424.5,407.0 L425.5,407.9 L426.5,408.9 L427.5,409.8 L428.5,410.8 L429.5,411.7 L430.5,412.7 L431.5,413.6 L432.5,414.6 L433.5,415.5 L434.5,416.4 L435.5,417.2 L436.5,418.0 L437.5,418.8 L438.5,419.6 L439.5,420.4 L440.5,421.2 L441.5,422.0 L442.5,422.8 L443.5,423.7 L444.5,424.6 L445.5,425.5 L446.5,426.5 L447.5,427.5 L448.5,428.5 L449.5,429.5 L450.5,430.5 L451.5,431.6 L452.5,432.9 L453.5,434.3 L454.5,435.8 L455.5,437.3 L456.5,438.7 L457.5,440.2 L458.5,441.7 L459.5,443.0 L460.5,444.2 L461.5,445.4 L462.5,446.6 L463.5,447.8 L464.5,448.9 L465.5,450.1 L466.5,451.2 L467.5,452.4 L468.5,453.6 L469.5,454.7 L470.5,455.9 L471.5,457.1 L472.5,458.2 L473.5,459.3 L474.5,460.2 L475.5,460.9 L476.5,461.6 L477.5,462.2 L478.5,462.9 L479.5,463.5 L480.5,464.2 L481.5,464.8 L482.5,465.4 L483.5,466.1 L484.5,466.7 L485.5,467.4 L486.5,468.0 L487.5,468.6 L488.5,469.1 L489.5,469.7 L490.5,470.2 L491.5,470.8 L492.5,471.4 L493.5,471.9 L494.5,472.5 L495.5,473.0 L496.5,473.6 L497.5,474.2 L498.5,474.8 L499.5,475.6 L500.5,476.5 L501.5,477.5 L502.5,478.5 L503.5,479.5 L504.5,480.5 L505.5,481.5 L506.5,482.5 L507.5,483.5 L508.5,484.5 L509.5,485.5 L510.5,486.5 L511.5,487.4 L512.5,488.3 L513.5,489.2 L514.5,490.0 L515.5,490.8 L516.5,491.7 L517.5,492.5 L518.5,493.3 L519.5,494.2 L520.5,495.0 L521.5,495.8 L522.5,496.7 L523.5,497.5 L524.5,498.3 L525.5,499.1 L526.5,499.9 L527.5,500.6 L528.5,501.3 L529.5,501.9 L530.5,502.5 L531.5,503.1 L532.5,503.8 L533.5,504.4 L534.5,505.0 L535.5,505.7 L536.5,506.3 L537.5,506.9 L538.5,507.6 L539.5,508.2 L540.5,509.0 L541.5,509.8 L542.5,510.6 L543.5,511.5 L544.5,512.3 L545.5,513.2 L546.5,514.0 L547.5,514.9 L548.5,515.7 L549.5,516.6 L550.5,517.4 L551.5,518.2 L552.5,519.0 L553.5,519.8 L554.5,520.6 L555.5,521.4 L556.5,522.2 L557.5,523.0 L558.5,523.8 L559.5,524.6 L560.5,525.3 L561.5,526.0 L562.5,526.7 L563.5,527.4 L564.5,528.1 L565.5,528.9 L566.5,529.5 L567.5,530.2 L568.5,530.9 L569.5,531.6 L570.5,532.3 L571.5,533.1 L572.5,533.8 L573.5,534.5 L574.5,535.2 L575.5,535.9 L576.5,536.6 L577.5,537.4 L578.5,538.1 L579.5,538.9 L580.5,539.6 L581.5,540.4 L582.5,541.1 L583.5,541.9 L584.5,542.6 L585.5,543.4 L586.5,544.2 L587.5,545.0 L588.5,545.8 L589.5,546.6 L590.5,547.4 L591.5,548.2 L592.5,549.0 L593.5,549.8 L594.5,550.6 L595.5,551.5 L596.5,552.3 L597.5,553.2 L598.5,554.1 L599.5,555.0 L600.5,555.9 L601.5,556.8 L602.5,557.7 L603.5,558.6 L604.5,559.5 L605.5,560.4 L606.5,561.4 L607.5,562.3 L608.5,563.2 L609.5,564.1 L610.5,564.9 L611.5,565.7 L612.5,566.5 L613.5,567.3 L614.5,568.1 L615.5,568.9 L616.5,569.6 L617.5,570.4 L618.5,571.2 L619.5,572.0 L620.5,572.8 L621.5,573.6 L622.5,574.4 L623.5,575.1 L624.5,575.9 L625.5,576.7 L626.5,577.4 L627.5,578.0 L628.5,578.6 L629.5,579.2 L630.5,579.8 L631.5,580.3 L632.5,580.9 L633.5,581.4 L634.5,582.0 L635.5,582.6 L636.5,583.1 L637.5,583.7 L638.5,584.2 L639.5,584.8 L640.5,585.4 L641.5,585.9 L642.5,586.5 L643.5,587.1 L644.5,587.6 L645.5,588.2 L646.5,588.6 L647.5,589.1 L648.5,589.4 L649.5,589.7 L650.5,590.1 L651.5,590.4 L652.5,590.8 L653.5,591.1 L654.5,591.4 L655.5,591.7 L656.5,592.1 L657.5,592.4 L658.5,592.7 L659.5,593.1 L660.5,593.4 L661.5,593.8 L662.5,594.1 L663.5,594.4 L664.5,594.7 L665.5,595.1 L666.5,595.4 L667.5,595.8 L668.5,596.1 L669.5,596.4 L670.5,596.8 L671.5,597.1 L672.5,597.4 L673.5,597.8 L674.5,598.1 L675.5,598.4 L676.5,598.8 L677.5,599.1 L678.5,599.5 L679.5,599.8 L680.5,600.1 L681.5,600.5 L682.5,600.8 L683.5,601.1 L684.5,601.5 L685.5,601.8 L686.5,602.2 L687.5,602.5 L688.5,602.8 L689.5,603.0 L690.5,603.2 L691.5,603.4 L692.5,603.5 L693.5,603.7 L694.5,603.8 L695.5,604.0 L696.5,604.1 L697.5,604.3 L698.5,604.4 L699.5,604.5 L700.5,604.6 L701.5,604.7 L702.5,604.7 L703.5,604.8 L704.5,604.8 L705.5,604.9 L706.5,605.0 L707.5,605.0 L708.5,605.1 L709.5,605.2 L710.5,605.2 L711.5,605.3 L712.5,605.3 L713.5,605.4 L714.5,605.5 L715.0,605.5" fill="none" stroke="#0092ee" stroke-width="3" stroke-linejoin="round"/>
</g>
<line x1="94.5" y1="120.0" x2="94.5" y2="721.0" stroke="#444444" stroke-width="1"/>
<line x1="94.5" y1="720.5" x2="895.0" y2="720.5" stroke="#444444" stroke-width="1"/>
<line x1="258.5" y1="715.0" x2="258.5" y2="720.0" stroke="#444444" stroke-width="1"/>
<line x1="416.0" y1="715.0" x2="416.0" y2="720.0" stroke="#444444" stroke-width="1"/>
<line x1="579.5" y1="715.0" x2="579.5" y2="720.0" stroke="#444444" stroke-width="1"/>
<line x1="742.5" y1="715.0" x2="742.5" y2="720.0" stroke="#444444" stroke-width="1"/>
<text x="499.5" y="60" font-family="'Liberation Sans', sans-serif" font-size="35" fill="#111111" text-anchor="middle" textLength="310" lengthAdjust="spacingAndGlyphs">Arctic Sea Ice Extent</text>
<text x="500" y="103.6" font-family="'Liberation Sans', sans-serif" font-size="35" fill="#111111" text-anchor="middle" textLength="618" lengthAdjust="spacingAndGlyphs">(Area of ocean with at least 15% sea ice)</text>
<text x="168.8" y="742.9" font-family="'Liberation Sans', sans-serif" font-size="22" fill="#111111" text-anchor="middle" textLength="40.5" lengthAdjust="spacingAndGlyphs">May</text>
<text x="331.4" y="742.9" font-family="'Liberation Sans', sans-serif" font-size="22" fill="#111111" text-anchor="middle" textLength="33" lengthAdjust="spacingAndGlyphs">Jun</text>
<text x="490.1" y="742.9" font-family="'Liberation Sans', sans-serif" font-size="22" fill="#111111" text-anchor="middle" textLength="25" lengthAdjust="spacingAndGlyphs">Jul</text>
<text x="653" y="742.9" font-family="'Liberation Sans', sans-serif" font-size="22" fill="#111111" text-anchor="middle" textLength="38.5" lengthAdjust="spacingAndGlyphs">Aug</text>
<text x="816" y="742.9" font-family="'Liberation Sans', sans-serif" font-size="22" fill="#111111" text-anchor="middle" textLength="36" lengthAdjust="spacingAndGlyphs">Sep</text>
<text x="893.8" y="761.8" font-family="'Liberation Sans', sans-serif" font-size="14" fill="#111111" text-anchor="end" textLength="77" lengthAdjust="spacingAndGlyphs">27 Aug 2019</text>
<text x="90.5" y="127.5" font-family="'Liberation Sans', sans-serif" font-size="22" fill="#111111" text-anchor="end">16</text>
<text x="90.5" y="213.2" font-family="'Liberation Sans', sans-serif" font-size="22" fill="#111111" text-anchor="end">14</text>
<text x="90.5" y="298.9" font-family="'Liberation Sans', sans-serif" font-size="22" fill="#111111" text-anchor="end">12</text>
<text x="90.5" y="384.6" font-family="'Liberation Sans', sans-serif" font-size="22" fill="#111111" text-anchor="end">10</text>
<text x="90.5" y="470.4" font-family="'Liberation Sans', sans-serif" font-size="22" fill="#111111" text-anchor="end">8</text>
<text x="90.5" y="556.1" font-family="'Liberation Sans', sans-serif" font-size="22" fill="#111111" text-anchor="end">6</text>
<text x="90.5" y="641.8" font-family="'Liberation Sans', sans-serif" font-size="22" fill="#111111" text-anchor="end">4</text>
<text x="90.5" y="727.5" font-family="'Liberation Sans', sans-serif" font-size="22" fill="#111111" text-anchor="end">2</text>
<g transform="translate(32.1,419.2) rotate(-90)"><text x="0" y="0" font-family="'Liberation Sans', sans-serif" font-size="27.6" fill="#111111" text-anchor="middle" textLength="462" lengthAdjust="spacingAndGlyphs">Extent (millions of square kilometers)</text></g>
<g transform="translate(913,480.5) rotate(-90)"><text x="0" y="0" font-family="'Liberation Sans', sans-serif" font-size="15.3" fill="#111111" text-anchor="middle" textLength="471" lengthAdjust="spacingAndGlyphs">National Snow and Ice Data Center, University of Colorado Boulder</text></g>
<line x1="100" y1="579.5" x2="128.8" y2="579.5" stroke="#0092ee" stroke-width="3"/>
<text x="133" y="587.8" font-family="'Liberation Sans', sans-serif" font-size="22" fill="#111111" textLength="48" lengthAdjust="spacingAndGlyphs">2019</text>
<line x1="100" y1="609.6" x2="128.8" y2="609.6" stroke="#00561f" stroke-width="3" stroke-dasharray="7.5,7.5"/>
<text x="133" y="618.0" font-family="'Liberation Sans', sans-serif" font-size="22" fill="#111111" textLength="48" lengthAdjust="spacingAndGlyphs">2012</text>
<line x1="100" y1="640" x2="128.8" y2="640" stroke="#999999" stroke-width="3"/>
<text x="133" y="648.3" font-family="'Liberation Sans', sans-serif" font-size="22" fill="#111111" textLength="180" lengthAdjust="spacingAndGlyphs">1981-2010 Median</text>
<line x1="100" y1="671" x2="128.8" y2="671" stroke="#cdcdcd" stroke-width="5"/>
<text x="133" y="678.5" font-family="'Liberation Sans', sans-serif" font-size="22" fill="#111111" textLength="187.5" lengthAdjust="spacingAndGlyphs">Interquartile Range</text>
<line x1="100" y1="701" x2="128.8" y2="701" stroke="#e4e4e4" stroke-width="6"/>
<text x="133" y="708.8" font-family="'Liberation Sans', sans-serif" font-size="22" fill="#111111" textLength="168.5" lengthAdjust="spacingAndGlyphs">Interdecile Range</text>
</svg>
</body></html>
